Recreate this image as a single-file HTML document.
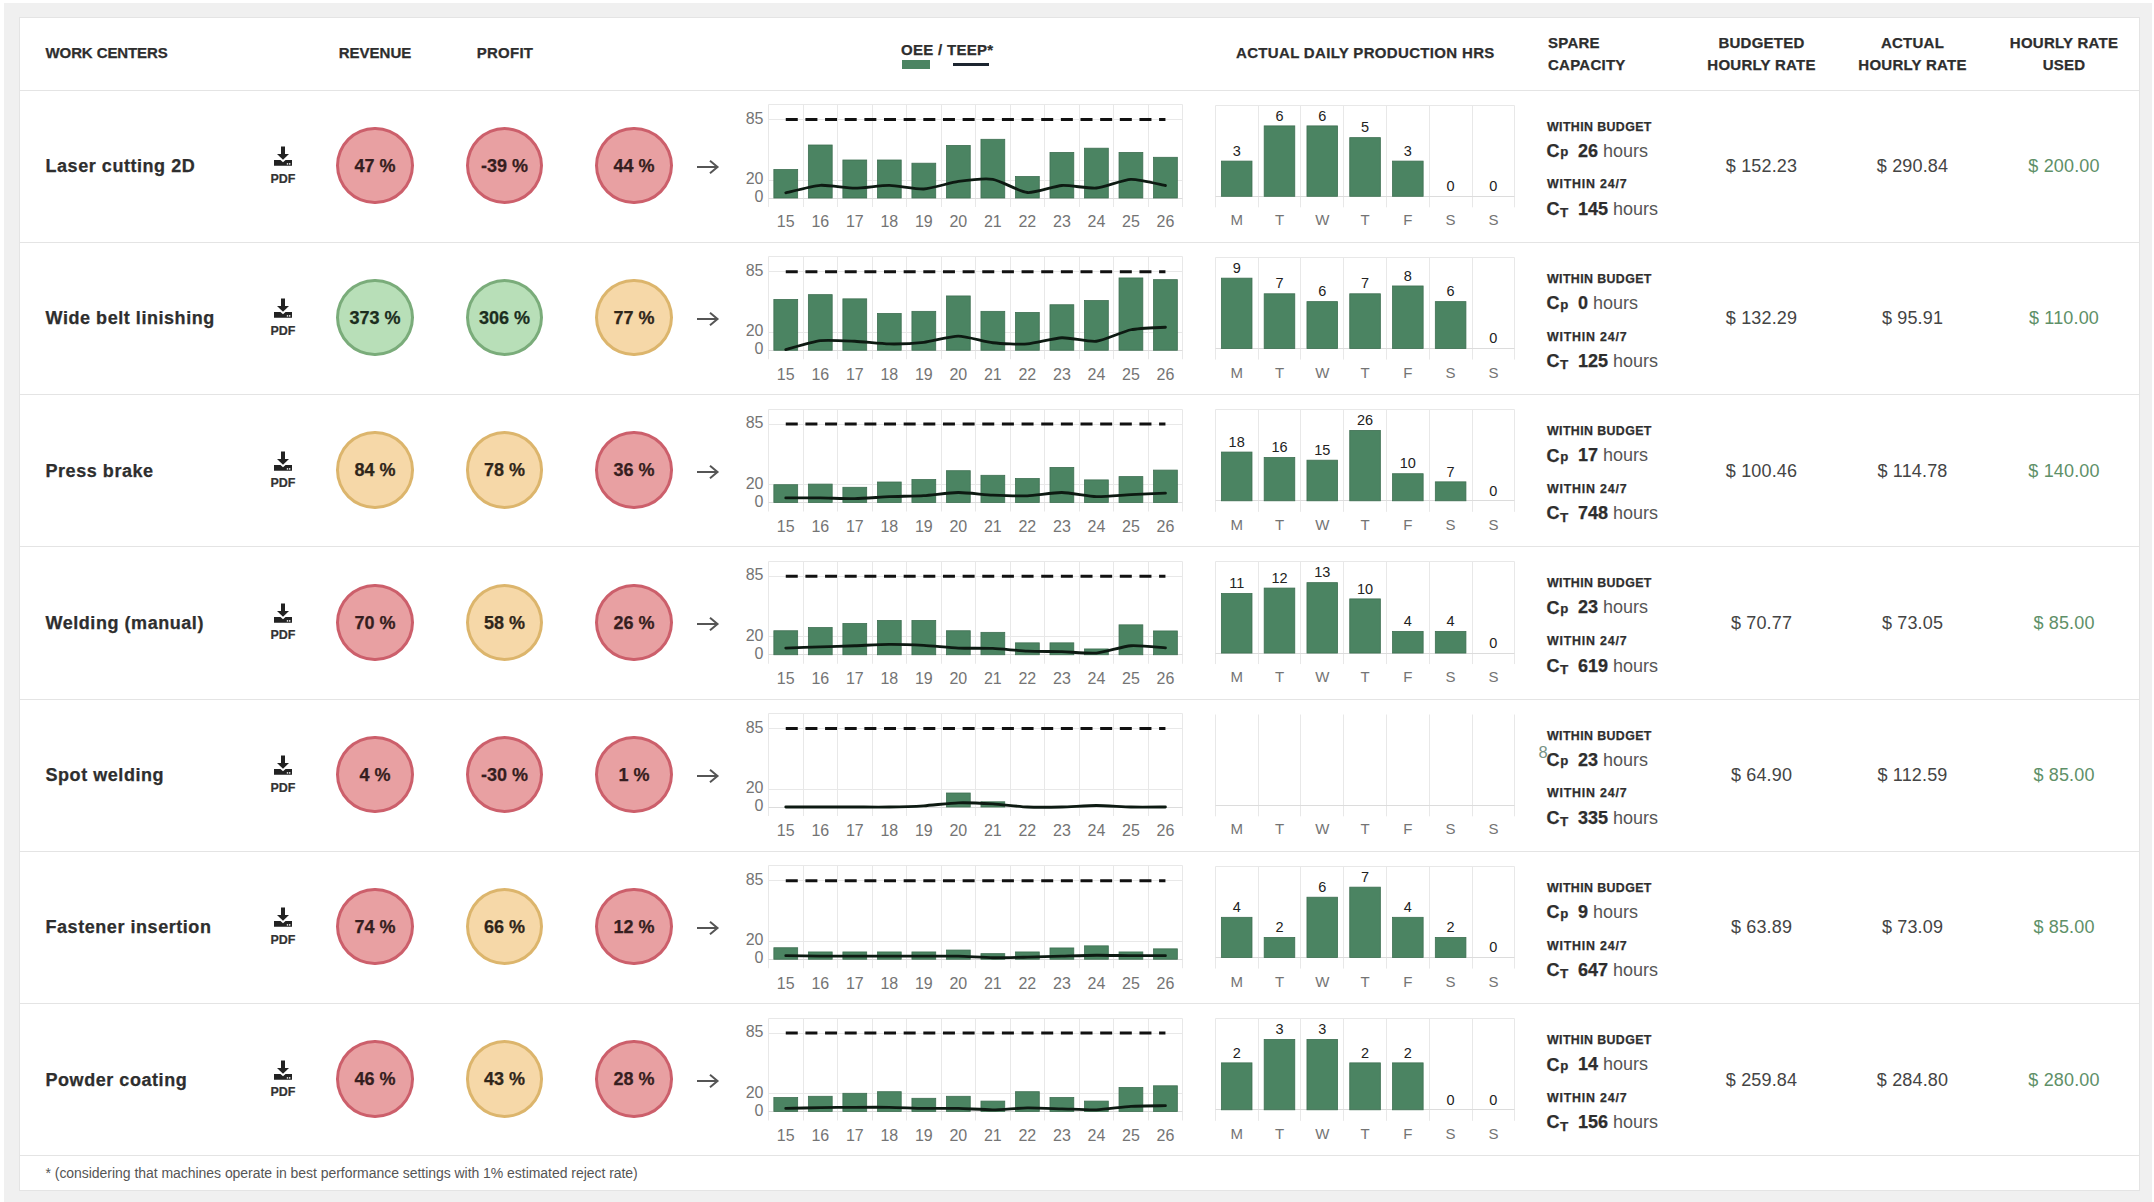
<!DOCTYPE html>
<html><head><meta charset="utf-8"><style>
html,body{margin:0;padding:0;width:2154px;height:1202px;overflow:hidden;background:#fff;font-family:'Liberation Sans', sans-serif;}
.a{position:absolute;white-space:nowrap;}
.hd,.nm,.circ,.wb,b{-webkit-text-stroke:0.25px currentColor;}
.hd{font-weight:bold;font-size:15px;color:#2e2e2e;letter-spacing:0.25px;line-height:22px;}
.nm{font-weight:bold;font-size:18px;color:#2e2e2e;letter-spacing:0.55px;}
.circ{position:absolute;width:71.5px;height:71.5px;border-radius:50%;border:3px solid;text-align:center;line-height:71.5px;font-weight:bold;font-size:18px;}
.wb{font-weight:bold;font-size:12.4px;color:#2e2e2e;letter-spacing:0.38px;}
.cp{font-size:18px;color:#2e2e2e;}
.rate{font-size:18px;color:#444;text-align:center;width:150px;letter-spacing:0.15px;}
</style></head><body>
<div class="a" style="left:4px;top:3px;width:2147.5px;height:1199px;background:#f0f0f0"></div>
<div class="a" style="left:18.5px;top:17px;width:2119px;height:1171.5px;background:#fff;border:1px solid #e4e4e4"></div>

<div class="a hd" style="left:45.5px;top:42px;letter-spacing:-0.1px">WORK CENTERS</div>
<div class="a hd" style="left:300px;width:150px;text-align:center;top:42px;letter-spacing:0px">REVENUE</div>
<div class="a hd" style="left:430px;width:150px;text-align:center;top:42px">PROFIT</div>
<div class="a hd" style="left:901px;top:38.5px;letter-spacing:0.3px">OEE / TEEP*</div>
<div class="a" style="left:902px;top:60.3px;width:28px;height:8.7px;background:#4b8462"></div>
<div class="a" style="left:953px;top:63px;width:35.5px;height:3px;background:#1c2530"></div>
<div class="a hd" style="left:1236px;top:42px;letter-spacing:0.33px">ACTUAL DAILY PRODUCTION HRS</div>
<div class="a hd" style="left:1548px;top:32px">SPARE<br>CAPACITY</div>
<div class="a hd" style="left:1661.5px;width:200px;text-align:center;top:32px">BUDGETED<br>HOURLY RATE</div>
<div class="a hd" style="left:1812.5px;width:200px;text-align:center;top:32px">ACTUAL<br>HOURLY RATE</div>
<div class="a hd" style="left:1964px;width:200px;text-align:center;top:32px">HOURLY RATE<br>USED</div>
<div class="a" style="left:18.5px;top:90.00px;width:2121px;height:1px;background:#e4e4e4"></div>
<div class="a" style="left:18.5px;top:242.00px;width:2121px;height:1px;background:#e4e4e4"></div>
<div class="a" style="left:18.5px;top:394.00px;width:2121px;height:1px;background:#e4e4e4"></div>
<div class="a" style="left:18.5px;top:546.00px;width:2121px;height:1px;background:#e4e4e4"></div>
<div class="a" style="left:18.5px;top:699.00px;width:2121px;height:1px;background:#e4e4e4"></div>
<div class="a" style="left:18.5px;top:851.00px;width:2121px;height:1px;background:#e4e4e4"></div>
<div class="a" style="left:18.5px;top:1003.00px;width:2121px;height:1px;background:#e4e4e4"></div>
<div class="a" style="left:18.5px;top:1155.00px;width:2121px;height:1px;background:#e4e4e4"></div>
<div class="a nm" style="left:45.5px;top:155.00px;line-height:22px">Laser cutting 2D</div>
<svg width="24" height="24" viewBox="0 0 24 24" style="position:absolute;left:271px;top:143.00px"><rect x="10" y="3.5" width="4" height="8" fill="#222"/><path d="M6,11 L18,11 L12,16.8 Z" fill="#222"/><path d="M3,17 L9.5,17 L12,19.3 L14.5,17 L21,17 L21,22.8 L3,22.8 Z" fill="#222"/><rect x="15.8" y="20.2" width="1.4" height="1.4" fill="#fff"/><rect x="18" y="20.2" width="1.4" height="1.4" fill="#fff"/></svg><div style="position:absolute;left:263px;width:40px;top:171.50px;text-align:center;font:bold 12.5px 'Liberation Sans', sans-serif;color:#333;line-height:14px;-webkit-text-stroke:0.2px #333">PDF</div>
<div class="circ" style="left:336.25px;top:126.75px;padding-top:1.2px;height:70.3px;line-height:70.3px;background:#e8a0a2;border-color:#cc5f6b;color:#361e20">47 %</div>
<div class="circ" style="left:465.75px;top:126.75px;padding-top:1.2px;height:70.3px;line-height:70.3px;background:#e8a0a2;border-color:#cc5f6b;color:#361e20">-39 %</div>
<div class="circ" style="left:595.25px;top:126.75px;padding-top:1.2px;height:70.3px;line-height:70.3px;background:#e8a0a2;border-color:#cc5f6b;color:#361e20">44 %</div>
<svg width="26" height="16" viewBox="0 0 26 16" style="position:absolute;left:695px;top:159.00px"><path d="M2,8 L22.5,8 M15,1.8 L22.5,8 L15,14.2" fill="none" stroke="#555" stroke-width="2"/></svg>
<svg width="470" height="140" viewBox="0 0 470 140" style="position:absolute;left:730px;top:95px">
<line x1="38.50" y1="9.5" x2="38.50" y2="112.0" stroke="#e8e8e8" stroke-width="1"/>
<line x1="73.50" y1="9.5" x2="73.50" y2="112.0" stroke="#e8e8e8" stroke-width="1"/>
<line x1="107.50" y1="9.5" x2="107.50" y2="112.0" stroke="#e8e8e8" stroke-width="1"/>
<line x1="142.50" y1="9.5" x2="142.50" y2="112.0" stroke="#e8e8e8" stroke-width="1"/>
<line x1="176.50" y1="9.5" x2="176.50" y2="112.0" stroke="#e8e8e8" stroke-width="1"/>
<line x1="211.50" y1="9.5" x2="211.50" y2="112.0" stroke="#e8e8e8" stroke-width="1"/>
<line x1="245.50" y1="9.5" x2="245.50" y2="112.0" stroke="#e8e8e8" stroke-width="1"/>
<line x1="280.50" y1="9.5" x2="280.50" y2="112.0" stroke="#e8e8e8" stroke-width="1"/>
<line x1="314.50" y1="9.5" x2="314.50" y2="112.0" stroke="#e8e8e8" stroke-width="1"/>
<line x1="349.50" y1="9.5" x2="349.50" y2="112.0" stroke="#e8e8e8" stroke-width="1"/>
<line x1="383.50" y1="9.5" x2="383.50" y2="112.0" stroke="#e8e8e8" stroke-width="1"/>
<line x1="418.50" y1="9.5" x2="418.50" y2="112.0" stroke="#e8e8e8" stroke-width="1"/>
<line x1="452.50" y1="9.5" x2="452.50" y2="112.0" stroke="#e8e8e8" stroke-width="1"/>
<line x1="38.5" y1="9.5" x2="452.5" y2="9.5" stroke="#e8e8e8" stroke-width="1"/>
<line x1="38.5" y1="24.5" x2="452.5" y2="24.5" stroke="#e8e8e8" stroke-width="1"/>
<line x1="38.5" y1="85.5" x2="452.5" y2="85.5" stroke="#e8e8e8" stroke-width="1"/>
<line x1="38.5" y1="103.5" x2="452.5" y2="103.5" stroke="#dcdcdc" stroke-width="1"/>
<rect x="43.86" y="74.50" width="23.8" height="28.50" fill="#4b8462" stroke="#3e6f52" stroke-width="0.8"/>
<rect x="78.38" y="50.00" width="23.8" height="53.00" fill="#4b8462" stroke="#3e6f52" stroke-width="0.8"/>
<rect x="112.89" y="65.00" width="23.8" height="38.00" fill="#4b8462" stroke="#3e6f52" stroke-width="0.8"/>
<rect x="147.41" y="65.00" width="23.8" height="38.00" fill="#4b8462" stroke="#3e6f52" stroke-width="0.8"/>
<rect x="181.93" y="68.20" width="23.8" height="34.80" fill="#4b8462" stroke="#3e6f52" stroke-width="0.8"/>
<rect x="216.44" y="50.40" width="23.8" height="52.60" fill="#4b8462" stroke="#3e6f52" stroke-width="0.8"/>
<rect x="250.96" y="44.30" width="23.8" height="58.70" fill="#4b8462" stroke="#3e6f52" stroke-width="0.8"/>
<rect x="285.48" y="81.50" width="23.8" height="21.50" fill="#4b8462" stroke="#3e6f52" stroke-width="0.8"/>
<rect x="319.99" y="57.40" width="23.8" height="45.60" fill="#4b8462" stroke="#3e6f52" stroke-width="0.8"/>
<rect x="354.51" y="53.20" width="23.8" height="49.80" fill="#4b8462" stroke="#3e6f52" stroke-width="0.8"/>
<rect x="389.03" y="57.40" width="23.8" height="45.60" fill="#4b8462" stroke="#3e6f52" stroke-width="0.8"/>
<rect x="423.54" y="62.30" width="23.8" height="40.70" fill="#4b8462" stroke="#3e6f52" stroke-width="0.8"/>
<line x1="55.76" y1="24.5" x2="435.44" y2="24.5" stroke="#111" stroke-width="3.2" stroke-dasharray="12,7.65"/>
<path d="M55.76,97.80 C59.56,96.97 82.68,90.81 90.28,90.30 C97.87,89.79 117.20,93.20 124.79,93.20 C132.39,93.20 151.71,90.21 159.31,90.30 C166.90,90.39 186.23,94.43 193.83,94.00 C201.42,93.57 220.75,87.47 228.34,86.40 C235.94,85.33 255.26,83.08 262.86,84.30 C270.45,85.52 289.78,96.82 297.38,97.50 C304.97,98.18 324.30,91.00 331.89,90.50 C339.49,90.00 358.81,93.68 366.41,93.00 C374.00,92.32 393.33,84.58 400.93,84.30 C408.52,84.02 431.64,89.82 435.44,90.50" fill="none" stroke="#0d1a12" stroke-width="2.8" stroke-linejoin="round" stroke-linecap="round"/>
<text x="33.5" y="28.50" text-anchor="end" font-family="Liberation Sans" font-size="16" fill="#747474">85</text>
<text x="33.5" y="89.00" text-anchor="end" font-family="Liberation Sans" font-size="16" fill="#747474">20</text>
<text x="33.5" y="107.00" text-anchor="end" font-family="Liberation Sans" font-size="16" fill="#747474">0</text>
<text x="55.76" y="132.30" text-anchor="middle" font-family="Liberation Sans" font-size="16" fill="#747474">15</text>
<text x="90.28" y="132.30" text-anchor="middle" font-family="Liberation Sans" font-size="16" fill="#747474">16</text>
<text x="124.79" y="132.30" text-anchor="middle" font-family="Liberation Sans" font-size="16" fill="#747474">17</text>
<text x="159.31" y="132.30" text-anchor="middle" font-family="Liberation Sans" font-size="16" fill="#747474">18</text>
<text x="193.83" y="132.30" text-anchor="middle" font-family="Liberation Sans" font-size="16" fill="#747474">19</text>
<text x="228.34" y="132.30" text-anchor="middle" font-family="Liberation Sans" font-size="16" fill="#747474">20</text>
<text x="262.86" y="132.30" text-anchor="middle" font-family="Liberation Sans" font-size="16" fill="#747474">21</text>
<text x="297.38" y="132.30" text-anchor="middle" font-family="Liberation Sans" font-size="16" fill="#747474">22</text>
<text x="331.89" y="132.30" text-anchor="middle" font-family="Liberation Sans" font-size="16" fill="#747474">23</text>
<text x="366.41" y="132.30" text-anchor="middle" font-family="Liberation Sans" font-size="16" fill="#747474">24</text>
<text x="400.93" y="132.30" text-anchor="middle" font-family="Liberation Sans" font-size="16" fill="#747474">25</text>
<text x="435.44" y="132.30" text-anchor="middle" font-family="Liberation Sans" font-size="16" fill="#747474">26</text>
</svg>
<svg width="330" height="140" viewBox="0 0 330 140" style="position:absolute;left:1200px;top:95px">
<line x1="15.50" y1="10.5" x2="15.50" y2="112.30000000000001" stroke="#e8e8e8" stroke-width="1"/>
<line x1="58.50" y1="10.5" x2="58.50" y2="112.30000000000001" stroke="#e8e8e8" stroke-width="1"/>
<line x1="100.50" y1="10.5" x2="100.50" y2="112.30000000000001" stroke="#e8e8e8" stroke-width="1"/>
<line x1="143.50" y1="10.5" x2="143.50" y2="112.30000000000001" stroke="#e8e8e8" stroke-width="1"/>
<line x1="186.50" y1="10.5" x2="186.50" y2="112.30000000000001" stroke="#e8e8e8" stroke-width="1"/>
<line x1="229.50" y1="10.5" x2="229.50" y2="112.30000000000001" stroke="#e8e8e8" stroke-width="1"/>
<line x1="272.50" y1="10.5" x2="272.50" y2="112.30000000000001" stroke="#e8e8e8" stroke-width="1"/>
<line x1="314.50" y1="10.5" x2="314.50" y2="112.30000000000001" stroke="#e8e8e8" stroke-width="1"/>
<line x1="15.5" y1="10.5" x2="314.5" y2="10.5" stroke="#e8e8e8" stroke-width="1"/>
<line x1="15.5" y1="101.5" x2="314.5" y2="101.5" stroke="#dcdcdc" stroke-width="1"/>
<rect x="21.39" y="66.10" width="30.6" height="35.20" fill="#4b8462" stroke="#3e6f52" stroke-width="0.8"/>
<text x="36.69" y="60.80" text-anchor="middle" font-family="Liberation Sans" font-size="14.5" fill="#222">3</text>
<rect x="64.18" y="30.90" width="30.6" height="70.40" fill="#4b8462" stroke="#3e6f52" stroke-width="0.8"/>
<text x="79.48" y="25.60" text-anchor="middle" font-family="Liberation Sans" font-size="14.5" fill="#222">6</text>
<rect x="106.96" y="30.90" width="30.6" height="70.40" fill="#4b8462" stroke="#3e6f52" stroke-width="0.8"/>
<text x="122.26" y="25.60" text-anchor="middle" font-family="Liberation Sans" font-size="14.5" fill="#222">6</text>
<rect x="149.75" y="42.63" width="30.6" height="58.67" fill="#4b8462" stroke="#3e6f52" stroke-width="0.8"/>
<text x="165.05" y="37.33" text-anchor="middle" font-family="Liberation Sans" font-size="14.5" fill="#222">5</text>
<rect x="192.54" y="66.10" width="30.6" height="35.20" fill="#4b8462" stroke="#3e6f52" stroke-width="0.8"/>
<text x="207.84" y="60.80" text-anchor="middle" font-family="Liberation Sans" font-size="14.5" fill="#222">3</text>
<text x="250.62" y="96.00" text-anchor="middle" font-family="Liberation Sans" font-size="14.5" fill="#222">0</text>
<text x="293.41" y="96.00" text-anchor="middle" font-family="Liberation Sans" font-size="14.5" fill="#222">0</text>
<text x="36.69" y="130.30" text-anchor="middle" font-family="Liberation Sans" font-size="15" fill="#747474">M</text>
<text x="79.48" y="130.30" text-anchor="middle" font-family="Liberation Sans" font-size="15" fill="#747474">T</text>
<text x="122.26" y="130.30" text-anchor="middle" font-family="Liberation Sans" font-size="15" fill="#747474">W</text>
<text x="165.05" y="130.30" text-anchor="middle" font-family="Liberation Sans" font-size="15" fill="#747474">T</text>
<text x="207.84" y="130.30" text-anchor="middle" font-family="Liberation Sans" font-size="15" fill="#747474">F</text>
<text x="250.62" y="130.30" text-anchor="middle" font-family="Liberation Sans" font-size="15" fill="#747474">S</text>
<text x="293.41" y="130.30" text-anchor="middle" font-family="Liberation Sans" font-size="15" fill="#747474">S</text>
</svg>
<div class="a wb" style="left:1547px;top:119.50px;line-height:14px">WITHIN BUDGET</div>
<div class="a wb" style="left:1547px;top:177.30px;line-height:14px;letter-spacing:0.8px">WITHIN 24/7</div>
<div class="a cp" style="left:1546.5px;top:140.00px;line-height:22px"><b>C</b><b style="font-size:13.2px;position:relative;top:-0.7px;margin-left:0.8px">p</b></div>
<div class="a cp" style="left:1578px;top:139.70px;line-height:22px"><b>26</b> <span style="color:#555">hours</span></div>
<div class="a cp" style="left:1546.5px;top:197.80px;line-height:22px"><b>C</b><b style="font-size:13.5px;position:relative;top:2.4px;margin-left:0.5px">T</b></div>
<div class="a cp" style="left:1578px;top:197.80px;line-height:22px"><b>145</b> <span style="color:#555">hours</span></div>
<div class="a rate" style="left:1686.5px;top:155.00px;line-height:22px">$ 152.23</div>
<div class="a rate" style="left:1837.5px;top:155.00px;line-height:22px">$ 290.84</div>
<div class="a rate" style="left:1989px;top:155.00px;line-height:22px;color:#5e9068">$ 200.00</div>
<div class="a nm" style="left:45.5px;top:307.25px;line-height:22px">Wide belt linishing</div>
<svg width="24" height="24" viewBox="0 0 24 24" style="position:absolute;left:271px;top:295.25px"><rect x="10" y="3.5" width="4" height="8" fill="#222"/><path d="M6,11 L18,11 L12,16.8 Z" fill="#222"/><path d="M3,17 L9.5,17 L12,19.3 L14.5,17 L21,17 L21,22.8 L3,22.8 Z" fill="#222"/><rect x="15.8" y="20.2" width="1.4" height="1.4" fill="#fff"/><rect x="18" y="20.2" width="1.4" height="1.4" fill="#fff"/></svg><div style="position:absolute;left:263px;width:40px;top:323.75px;text-align:center;font:bold 12.5px 'Liberation Sans', sans-serif;color:#333;line-height:14px;-webkit-text-stroke:0.2px #333">PDF</div>
<div class="circ" style="left:336.25px;top:279.00px;padding-top:1.2px;height:70.3px;line-height:70.3px;background:#b8dfb8;border-color:#7aac7a;color:#1c2e1e">373 %</div>
<div class="circ" style="left:465.75px;top:279.00px;padding-top:1.2px;height:70.3px;line-height:70.3px;background:#b8dfb8;border-color:#7aac7a;color:#1c2e1e">306 %</div>
<div class="circ" style="left:595.25px;top:279.00px;padding-top:1.2px;height:70.3px;line-height:70.3px;background:#f6d8a8;border-color:#dcb56c;color:#30261a">77 %</div>
<svg width="26" height="16" viewBox="0 0 26 16" style="position:absolute;left:695px;top:311.25px"><path d="M2,8 L22.5,8 M15,1.8 L22.5,8 L15,14.2" fill="none" stroke="#555" stroke-width="2"/></svg>
<svg width="470" height="140" viewBox="0 0 470 140" style="position:absolute;left:730px;top:247px">
<line x1="38.50" y1="9.5" x2="38.50" y2="112.25" stroke="#e8e8e8" stroke-width="1"/>
<line x1="73.50" y1="9.5" x2="73.50" y2="112.25" stroke="#e8e8e8" stroke-width="1"/>
<line x1="107.50" y1="9.5" x2="107.50" y2="112.25" stroke="#e8e8e8" stroke-width="1"/>
<line x1="142.50" y1="9.5" x2="142.50" y2="112.25" stroke="#e8e8e8" stroke-width="1"/>
<line x1="176.50" y1="9.5" x2="176.50" y2="112.25" stroke="#e8e8e8" stroke-width="1"/>
<line x1="211.50" y1="9.5" x2="211.50" y2="112.25" stroke="#e8e8e8" stroke-width="1"/>
<line x1="245.50" y1="9.5" x2="245.50" y2="112.25" stroke="#e8e8e8" stroke-width="1"/>
<line x1="280.50" y1="9.5" x2="280.50" y2="112.25" stroke="#e8e8e8" stroke-width="1"/>
<line x1="314.50" y1="9.5" x2="314.50" y2="112.25" stroke="#e8e8e8" stroke-width="1"/>
<line x1="349.50" y1="9.5" x2="349.50" y2="112.25" stroke="#e8e8e8" stroke-width="1"/>
<line x1="383.50" y1="9.5" x2="383.50" y2="112.25" stroke="#e8e8e8" stroke-width="1"/>
<line x1="418.50" y1="9.5" x2="418.50" y2="112.25" stroke="#e8e8e8" stroke-width="1"/>
<line x1="452.50" y1="9.5" x2="452.50" y2="112.25" stroke="#e8e8e8" stroke-width="1"/>
<line x1="38.5" y1="9.5" x2="452.5" y2="9.5" stroke="#e8e8e8" stroke-width="1"/>
<line x1="38.5" y1="24.5" x2="452.5" y2="24.5" stroke="#e8e8e8" stroke-width="1"/>
<line x1="38.5" y1="85.5" x2="452.5" y2="85.5" stroke="#e8e8e8" stroke-width="1"/>
<line x1="38.5" y1="103.5" x2="452.5" y2="103.5" stroke="#dcdcdc" stroke-width="1"/>
<rect x="43.86" y="52.45" width="23.8" height="50.80" fill="#4b8462" stroke="#3e6f52" stroke-width="0.8"/>
<rect x="78.38" y="47.65" width="23.8" height="55.60" fill="#4b8462" stroke="#3e6f52" stroke-width="0.8"/>
<rect x="112.89" y="51.85" width="23.8" height="51.40" fill="#4b8462" stroke="#3e6f52" stroke-width="0.8"/>
<rect x="147.41" y="66.45" width="23.8" height="36.80" fill="#4b8462" stroke="#3e6f52" stroke-width="0.8"/>
<rect x="181.93" y="64.35" width="23.8" height="38.90" fill="#4b8462" stroke="#3e6f52" stroke-width="0.8"/>
<rect x="216.44" y="48.95" width="23.8" height="54.30" fill="#4b8462" stroke="#3e6f52" stroke-width="0.8"/>
<rect x="250.96" y="64.35" width="23.8" height="38.90" fill="#4b8462" stroke="#3e6f52" stroke-width="0.8"/>
<rect x="285.48" y="65.45" width="23.8" height="37.80" fill="#4b8462" stroke="#3e6f52" stroke-width="0.8"/>
<rect x="319.99" y="57.75" width="23.8" height="45.50" fill="#4b8462" stroke="#3e6f52" stroke-width="0.8"/>
<rect x="354.51" y="53.55" width="23.8" height="49.70" fill="#4b8462" stroke="#3e6f52" stroke-width="0.8"/>
<rect x="389.03" y="30.95" width="23.8" height="72.30" fill="#4b8462" stroke="#3e6f52" stroke-width="0.8"/>
<rect x="423.54" y="32.65" width="23.8" height="70.60" fill="#4b8462" stroke="#3e6f52" stroke-width="0.8"/>
<line x1="55.76" y1="24.75" x2="435.44" y2="24.75" stroke="#111" stroke-width="3.2" stroke-dasharray="12,7.65"/>
<path d="M55.76,102.65 C59.56,101.66 82.68,94.57 90.28,93.65 C97.87,92.73 117.20,93.89 124.79,94.25 C132.39,94.61 151.71,96.83 159.31,96.95 C166.90,97.07 186.23,96.22 193.83,95.35 C201.42,94.48 220.75,89.01 228.34,89.05 C235.94,89.09 255.26,94.88 262.86,95.75 C270.45,96.62 289.78,97.50 297.38,96.95 C304.97,96.40 324.30,91.05 331.89,90.75 C339.49,90.45 358.81,95.13 366.41,94.25 C374.00,93.37 393.33,84.29 400.93,82.75 C408.52,81.21 431.64,80.53 435.44,80.25" fill="none" stroke="#0d1a12" stroke-width="2.8" stroke-linejoin="round" stroke-linecap="round"/>
<text x="33.5" y="28.75" text-anchor="end" font-family="Liberation Sans" font-size="16" fill="#747474">85</text>
<text x="33.5" y="89.25" text-anchor="end" font-family="Liberation Sans" font-size="16" fill="#747474">20</text>
<text x="33.5" y="107.25" text-anchor="end" font-family="Liberation Sans" font-size="16" fill="#747474">0</text>
<text x="55.76" y="132.55" text-anchor="middle" font-family="Liberation Sans" font-size="16" fill="#747474">15</text>
<text x="90.28" y="132.55" text-anchor="middle" font-family="Liberation Sans" font-size="16" fill="#747474">16</text>
<text x="124.79" y="132.55" text-anchor="middle" font-family="Liberation Sans" font-size="16" fill="#747474">17</text>
<text x="159.31" y="132.55" text-anchor="middle" font-family="Liberation Sans" font-size="16" fill="#747474">18</text>
<text x="193.83" y="132.55" text-anchor="middle" font-family="Liberation Sans" font-size="16" fill="#747474">19</text>
<text x="228.34" y="132.55" text-anchor="middle" font-family="Liberation Sans" font-size="16" fill="#747474">20</text>
<text x="262.86" y="132.55" text-anchor="middle" font-family="Liberation Sans" font-size="16" fill="#747474">21</text>
<text x="297.38" y="132.55" text-anchor="middle" font-family="Liberation Sans" font-size="16" fill="#747474">22</text>
<text x="331.89" y="132.55" text-anchor="middle" font-family="Liberation Sans" font-size="16" fill="#747474">23</text>
<text x="366.41" y="132.55" text-anchor="middle" font-family="Liberation Sans" font-size="16" fill="#747474">24</text>
<text x="400.93" y="132.55" text-anchor="middle" font-family="Liberation Sans" font-size="16" fill="#747474">25</text>
<text x="435.44" y="132.55" text-anchor="middle" font-family="Liberation Sans" font-size="16" fill="#747474">26</text>
</svg>
<svg width="330" height="140" viewBox="0 0 330 140" style="position:absolute;left:1200px;top:247px">
<line x1="15.50" y1="10.5" x2="15.50" y2="112.55000000000001" stroke="#e8e8e8" stroke-width="1"/>
<line x1="58.50" y1="10.5" x2="58.50" y2="112.55000000000001" stroke="#e8e8e8" stroke-width="1"/>
<line x1="100.50" y1="10.5" x2="100.50" y2="112.55000000000001" stroke="#e8e8e8" stroke-width="1"/>
<line x1="143.50" y1="10.5" x2="143.50" y2="112.55000000000001" stroke="#e8e8e8" stroke-width="1"/>
<line x1="186.50" y1="10.5" x2="186.50" y2="112.55000000000001" stroke="#e8e8e8" stroke-width="1"/>
<line x1="229.50" y1="10.5" x2="229.50" y2="112.55000000000001" stroke="#e8e8e8" stroke-width="1"/>
<line x1="272.50" y1="10.5" x2="272.50" y2="112.55000000000001" stroke="#e8e8e8" stroke-width="1"/>
<line x1="314.50" y1="10.5" x2="314.50" y2="112.55000000000001" stroke="#e8e8e8" stroke-width="1"/>
<line x1="15.5" y1="10.5" x2="314.5" y2="10.5" stroke="#e8e8e8" stroke-width="1"/>
<line x1="15.5" y1="101.5" x2="314.5" y2="101.5" stroke="#dcdcdc" stroke-width="1"/>
<rect x="21.39" y="31.15" width="30.6" height="70.40" fill="#4b8462" stroke="#3e6f52" stroke-width="0.8"/>
<text x="36.69" y="25.85" text-anchor="middle" font-family="Liberation Sans" font-size="14.5" fill="#222">9</text>
<rect x="64.18" y="46.79" width="30.6" height="54.76" fill="#4b8462" stroke="#3e6f52" stroke-width="0.8"/>
<text x="79.48" y="41.49" text-anchor="middle" font-family="Liberation Sans" font-size="14.5" fill="#222">7</text>
<rect x="106.96" y="54.62" width="30.6" height="46.93" fill="#4b8462" stroke="#3e6f52" stroke-width="0.8"/>
<text x="122.26" y="49.32" text-anchor="middle" font-family="Liberation Sans" font-size="14.5" fill="#222">6</text>
<rect x="149.75" y="46.79" width="30.6" height="54.76" fill="#4b8462" stroke="#3e6f52" stroke-width="0.8"/>
<text x="165.05" y="41.49" text-anchor="middle" font-family="Liberation Sans" font-size="14.5" fill="#222">7</text>
<rect x="192.54" y="38.97" width="30.6" height="62.58" fill="#4b8462" stroke="#3e6f52" stroke-width="0.8"/>
<text x="207.84" y="33.67" text-anchor="middle" font-family="Liberation Sans" font-size="14.5" fill="#222">8</text>
<rect x="235.32" y="54.62" width="30.6" height="46.93" fill="#4b8462" stroke="#3e6f52" stroke-width="0.8"/>
<text x="250.62" y="49.32" text-anchor="middle" font-family="Liberation Sans" font-size="14.5" fill="#222">6</text>
<text x="293.41" y="96.25" text-anchor="middle" font-family="Liberation Sans" font-size="14.5" fill="#222">0</text>
<text x="36.69" y="130.55" text-anchor="middle" font-family="Liberation Sans" font-size="15" fill="#747474">M</text>
<text x="79.48" y="130.55" text-anchor="middle" font-family="Liberation Sans" font-size="15" fill="#747474">T</text>
<text x="122.26" y="130.55" text-anchor="middle" font-family="Liberation Sans" font-size="15" fill="#747474">W</text>
<text x="165.05" y="130.55" text-anchor="middle" font-family="Liberation Sans" font-size="15" fill="#747474">T</text>
<text x="207.84" y="130.55" text-anchor="middle" font-family="Liberation Sans" font-size="15" fill="#747474">F</text>
<text x="250.62" y="130.55" text-anchor="middle" font-family="Liberation Sans" font-size="15" fill="#747474">S</text>
<text x="293.41" y="130.55" text-anchor="middle" font-family="Liberation Sans" font-size="15" fill="#747474">S</text>
</svg>
<div class="a wb" style="left:1547px;top:271.75px;line-height:14px">WITHIN BUDGET</div>
<div class="a wb" style="left:1547px;top:329.55px;line-height:14px;letter-spacing:0.8px">WITHIN 24/7</div>
<div class="a cp" style="left:1546.5px;top:292.25px;line-height:22px"><b>C</b><b style="font-size:13.2px;position:relative;top:-0.7px;margin-left:0.8px">p</b></div>
<div class="a cp" style="left:1578px;top:291.95px;line-height:22px"><b>0</b> <span style="color:#555">hours</span></div>
<div class="a cp" style="left:1546.5px;top:350.05px;line-height:22px"><b>C</b><b style="font-size:13.5px;position:relative;top:2.4px;margin-left:0.5px">T</b></div>
<div class="a cp" style="left:1578px;top:350.05px;line-height:22px"><b>125</b> <span style="color:#555">hours</span></div>
<div class="a rate" style="left:1686.5px;top:307.25px;line-height:22px">$ 132.29</div>
<div class="a rate" style="left:1837.5px;top:307.25px;line-height:22px">$ 95.91</div>
<div class="a rate" style="left:1989px;top:307.25px;line-height:22px;color:#5e9068">$ 110.00</div>
<div class="a nm" style="left:45.5px;top:459.50px;line-height:22px">Press brake</div>
<svg width="24" height="24" viewBox="0 0 24 24" style="position:absolute;left:271px;top:447.50px"><rect x="10" y="3.5" width="4" height="8" fill="#222"/><path d="M6,11 L18,11 L12,16.8 Z" fill="#222"/><path d="M3,17 L9.5,17 L12,19.3 L14.5,17 L21,17 L21,22.8 L3,22.8 Z" fill="#222"/><rect x="15.8" y="20.2" width="1.4" height="1.4" fill="#fff"/><rect x="18" y="20.2" width="1.4" height="1.4" fill="#fff"/></svg><div style="position:absolute;left:263px;width:40px;top:476.00px;text-align:center;font:bold 12.5px 'Liberation Sans', sans-serif;color:#333;line-height:14px;-webkit-text-stroke:0.2px #333">PDF</div>
<div class="circ" style="left:336.25px;top:431.25px;padding-top:1.2px;height:70.3px;line-height:70.3px;background:#f6d8a8;border-color:#dcb56c;color:#30261a">84 %</div>
<div class="circ" style="left:465.75px;top:431.25px;padding-top:1.2px;height:70.3px;line-height:70.3px;background:#f6d8a8;border-color:#dcb56c;color:#30261a">78 %</div>
<div class="circ" style="left:595.25px;top:431.25px;padding-top:1.2px;height:70.3px;line-height:70.3px;background:#e8a0a2;border-color:#cc5f6b;color:#361e20">36 %</div>
<svg width="26" height="16" viewBox="0 0 26 16" style="position:absolute;left:695px;top:463.50px"><path d="M2,8 L22.5,8 M15,1.8 L22.5,8 L15,14.2" fill="none" stroke="#555" stroke-width="2"/></svg>
<svg width="470" height="140" viewBox="0 0 470 140" style="position:absolute;left:730px;top:399px">
<line x1="38.50" y1="10.5" x2="38.50" y2="112.5" stroke="#e8e8e8" stroke-width="1"/>
<line x1="73.50" y1="10.5" x2="73.50" y2="112.5" stroke="#e8e8e8" stroke-width="1"/>
<line x1="107.50" y1="10.5" x2="107.50" y2="112.5" stroke="#e8e8e8" stroke-width="1"/>
<line x1="142.50" y1="10.5" x2="142.50" y2="112.5" stroke="#e8e8e8" stroke-width="1"/>
<line x1="176.50" y1="10.5" x2="176.50" y2="112.5" stroke="#e8e8e8" stroke-width="1"/>
<line x1="211.50" y1="10.5" x2="211.50" y2="112.5" stroke="#e8e8e8" stroke-width="1"/>
<line x1="245.50" y1="10.5" x2="245.50" y2="112.5" stroke="#e8e8e8" stroke-width="1"/>
<line x1="280.50" y1="10.5" x2="280.50" y2="112.5" stroke="#e8e8e8" stroke-width="1"/>
<line x1="314.50" y1="10.5" x2="314.50" y2="112.5" stroke="#e8e8e8" stroke-width="1"/>
<line x1="349.50" y1="10.5" x2="349.50" y2="112.5" stroke="#e8e8e8" stroke-width="1"/>
<line x1="383.50" y1="10.5" x2="383.50" y2="112.5" stroke="#e8e8e8" stroke-width="1"/>
<line x1="418.50" y1="10.5" x2="418.50" y2="112.5" stroke="#e8e8e8" stroke-width="1"/>
<line x1="452.50" y1="10.5" x2="452.50" y2="112.5" stroke="#e8e8e8" stroke-width="1"/>
<line x1="38.5" y1="10.5" x2="452.5" y2="10.5" stroke="#e8e8e8" stroke-width="1"/>
<line x1="38.5" y1="25.5" x2="452.5" y2="25.5" stroke="#e8e8e8" stroke-width="1"/>
<line x1="38.5" y1="85.5" x2="452.5" y2="85.5" stroke="#e8e8e8" stroke-width="1"/>
<line x1="38.5" y1="103.5" x2="452.5" y2="103.5" stroke="#dcdcdc" stroke-width="1"/>
<rect x="43.86" y="85.70" width="23.8" height="17.80" fill="#4b8462" stroke="#3e6f52" stroke-width="0.8"/>
<rect x="78.38" y="85.10" width="23.8" height="18.40" fill="#4b8462" stroke="#3e6f52" stroke-width="0.8"/>
<rect x="112.89" y="88.30" width="23.8" height="15.20" fill="#4b8462" stroke="#3e6f52" stroke-width="0.8"/>
<rect x="147.41" y="83.00" width="23.8" height="20.50" fill="#4b8462" stroke="#3e6f52" stroke-width="0.8"/>
<rect x="181.93" y="80.50" width="23.8" height="23.00" fill="#4b8462" stroke="#3e6f52" stroke-width="0.8"/>
<rect x="216.44" y="71.70" width="23.8" height="31.80" fill="#4b8462" stroke="#3e6f52" stroke-width="0.8"/>
<rect x="250.96" y="76.30" width="23.8" height="27.20" fill="#4b8462" stroke="#3e6f52" stroke-width="0.8"/>
<rect x="285.48" y="79.50" width="23.8" height="24.00" fill="#4b8462" stroke="#3e6f52" stroke-width="0.8"/>
<rect x="319.99" y="68.40" width="23.8" height="35.10" fill="#4b8462" stroke="#3e6f52" stroke-width="0.8"/>
<rect x="354.51" y="80.90" width="23.8" height="22.60" fill="#4b8462" stroke="#3e6f52" stroke-width="0.8"/>
<rect x="389.03" y="77.60" width="23.8" height="25.90" fill="#4b8462" stroke="#3e6f52" stroke-width="0.8"/>
<rect x="423.54" y="71.10" width="23.8" height="32.40" fill="#4b8462" stroke="#3e6f52" stroke-width="0.8"/>
<line x1="55.76" y1="25.0" x2="435.44" y2="25.0" stroke="#111" stroke-width="3.2" stroke-dasharray="12,7.65"/>
<path d="M55.76,98.90 C59.56,98.90 82.68,98.81 90.28,98.90 C97.87,98.99 117.20,99.83 124.79,99.70 C132.39,99.57 151.71,98.04 159.31,97.70 C166.90,97.36 186.23,97.06 193.83,96.60 C201.42,96.14 220.75,93.54 228.34,93.50 C235.94,93.46 255.26,95.84 262.86,96.20 C270.45,96.56 289.78,97.10 297.38,96.80 C304.97,96.50 324.30,93.40 331.89,93.50 C339.49,93.60 358.81,97.47 366.41,97.70 C374.00,97.93 393.33,96.00 400.93,95.60 C408.52,95.20 431.64,94.27 435.44,94.10" fill="none" stroke="#0d1a12" stroke-width="2.8" stroke-linejoin="round" stroke-linecap="round"/>
<text x="33.5" y="29.00" text-anchor="end" font-family="Liberation Sans" font-size="16" fill="#747474">85</text>
<text x="33.5" y="89.50" text-anchor="end" font-family="Liberation Sans" font-size="16" fill="#747474">20</text>
<text x="33.5" y="107.50" text-anchor="end" font-family="Liberation Sans" font-size="16" fill="#747474">0</text>
<text x="55.76" y="132.80" text-anchor="middle" font-family="Liberation Sans" font-size="16" fill="#747474">15</text>
<text x="90.28" y="132.80" text-anchor="middle" font-family="Liberation Sans" font-size="16" fill="#747474">16</text>
<text x="124.79" y="132.80" text-anchor="middle" font-family="Liberation Sans" font-size="16" fill="#747474">17</text>
<text x="159.31" y="132.80" text-anchor="middle" font-family="Liberation Sans" font-size="16" fill="#747474">18</text>
<text x="193.83" y="132.80" text-anchor="middle" font-family="Liberation Sans" font-size="16" fill="#747474">19</text>
<text x="228.34" y="132.80" text-anchor="middle" font-family="Liberation Sans" font-size="16" fill="#747474">20</text>
<text x="262.86" y="132.80" text-anchor="middle" font-family="Liberation Sans" font-size="16" fill="#747474">21</text>
<text x="297.38" y="132.80" text-anchor="middle" font-family="Liberation Sans" font-size="16" fill="#747474">22</text>
<text x="331.89" y="132.80" text-anchor="middle" font-family="Liberation Sans" font-size="16" fill="#747474">23</text>
<text x="366.41" y="132.80" text-anchor="middle" font-family="Liberation Sans" font-size="16" fill="#747474">24</text>
<text x="400.93" y="132.80" text-anchor="middle" font-family="Liberation Sans" font-size="16" fill="#747474">25</text>
<text x="435.44" y="132.80" text-anchor="middle" font-family="Liberation Sans" font-size="16" fill="#747474">26</text>
</svg>
<svg width="330" height="140" viewBox="0 0 330 140" style="position:absolute;left:1200px;top:399px">
<line x1="15.50" y1="10.5" x2="15.50" y2="112.80000000000001" stroke="#e8e8e8" stroke-width="1"/>
<line x1="58.50" y1="10.5" x2="58.50" y2="112.80000000000001" stroke="#e8e8e8" stroke-width="1"/>
<line x1="100.50" y1="10.5" x2="100.50" y2="112.80000000000001" stroke="#e8e8e8" stroke-width="1"/>
<line x1="143.50" y1="10.5" x2="143.50" y2="112.80000000000001" stroke="#e8e8e8" stroke-width="1"/>
<line x1="186.50" y1="10.5" x2="186.50" y2="112.80000000000001" stroke="#e8e8e8" stroke-width="1"/>
<line x1="229.50" y1="10.5" x2="229.50" y2="112.80000000000001" stroke="#e8e8e8" stroke-width="1"/>
<line x1="272.50" y1="10.5" x2="272.50" y2="112.80000000000001" stroke="#e8e8e8" stroke-width="1"/>
<line x1="314.50" y1="10.5" x2="314.50" y2="112.80000000000001" stroke="#e8e8e8" stroke-width="1"/>
<line x1="15.5" y1="10.5" x2="314.5" y2="10.5" stroke="#e8e8e8" stroke-width="1"/>
<line x1="15.5" y1="101.5" x2="314.5" y2="101.5" stroke="#dcdcdc" stroke-width="1"/>
<rect x="21.39" y="53.06" width="30.6" height="48.74" fill="#4b8462" stroke="#3e6f52" stroke-width="0.8"/>
<text x="36.69" y="47.76" text-anchor="middle" font-family="Liberation Sans" font-size="14.5" fill="#222">18</text>
<rect x="64.18" y="58.48" width="30.6" height="43.32" fill="#4b8462" stroke="#3e6f52" stroke-width="0.8"/>
<text x="79.48" y="53.18" text-anchor="middle" font-family="Liberation Sans" font-size="14.5" fill="#222">16</text>
<rect x="106.96" y="61.18" width="30.6" height="40.62" fill="#4b8462" stroke="#3e6f52" stroke-width="0.8"/>
<text x="122.26" y="55.88" text-anchor="middle" font-family="Liberation Sans" font-size="14.5" fill="#222">15</text>
<rect x="149.75" y="31.40" width="30.6" height="70.40" fill="#4b8462" stroke="#3e6f52" stroke-width="0.8"/>
<text x="165.05" y="26.10" text-anchor="middle" font-family="Liberation Sans" font-size="14.5" fill="#222">26</text>
<rect x="192.54" y="74.72" width="30.6" height="27.08" fill="#4b8462" stroke="#3e6f52" stroke-width="0.8"/>
<text x="207.84" y="69.42" text-anchor="middle" font-family="Liberation Sans" font-size="14.5" fill="#222">10</text>
<rect x="235.32" y="82.85" width="30.6" height="18.95" fill="#4b8462" stroke="#3e6f52" stroke-width="0.8"/>
<text x="250.62" y="77.55" text-anchor="middle" font-family="Liberation Sans" font-size="14.5" fill="#222">7</text>
<text x="293.41" y="96.50" text-anchor="middle" font-family="Liberation Sans" font-size="14.5" fill="#222">0</text>
<text x="36.69" y="130.80" text-anchor="middle" font-family="Liberation Sans" font-size="15" fill="#747474">M</text>
<text x="79.48" y="130.80" text-anchor="middle" font-family="Liberation Sans" font-size="15" fill="#747474">T</text>
<text x="122.26" y="130.80" text-anchor="middle" font-family="Liberation Sans" font-size="15" fill="#747474">W</text>
<text x="165.05" y="130.80" text-anchor="middle" font-family="Liberation Sans" font-size="15" fill="#747474">T</text>
<text x="207.84" y="130.80" text-anchor="middle" font-family="Liberation Sans" font-size="15" fill="#747474">F</text>
<text x="250.62" y="130.80" text-anchor="middle" font-family="Liberation Sans" font-size="15" fill="#747474">S</text>
<text x="293.41" y="130.80" text-anchor="middle" font-family="Liberation Sans" font-size="15" fill="#747474">S</text>
</svg>
<div class="a wb" style="left:1547px;top:424.00px;line-height:14px">WITHIN BUDGET</div>
<div class="a wb" style="left:1547px;top:481.80px;line-height:14px;letter-spacing:0.8px">WITHIN 24/7</div>
<div class="a cp" style="left:1546.5px;top:444.50px;line-height:22px"><b>C</b><b style="font-size:13.2px;position:relative;top:-0.7px;margin-left:0.8px">p</b></div>
<div class="a cp" style="left:1578px;top:444.20px;line-height:22px"><b>17</b> <span style="color:#555">hours</span></div>
<div class="a cp" style="left:1546.5px;top:502.30px;line-height:22px"><b>C</b><b style="font-size:13.5px;position:relative;top:2.4px;margin-left:0.5px">T</b></div>
<div class="a cp" style="left:1578px;top:502.30px;line-height:22px"><b>748</b> <span style="color:#555">hours</span></div>
<div class="a rate" style="left:1686.5px;top:459.50px;line-height:22px">$ 100.46</div>
<div class="a rate" style="left:1837.5px;top:459.50px;line-height:22px">$ 114.78</div>
<div class="a rate" style="left:1989px;top:459.50px;line-height:22px;color:#5e9068">$ 140.00</div>
<div class="a nm" style="left:45.5px;top:611.75px;line-height:22px">Welding (manual)</div>
<svg width="24" height="24" viewBox="0 0 24 24" style="position:absolute;left:271px;top:599.75px"><rect x="10" y="3.5" width="4" height="8" fill="#222"/><path d="M6,11 L18,11 L12,16.8 Z" fill="#222"/><path d="M3,17 L9.5,17 L12,19.3 L14.5,17 L21,17 L21,22.8 L3,22.8 Z" fill="#222"/><rect x="15.8" y="20.2" width="1.4" height="1.4" fill="#fff"/><rect x="18" y="20.2" width="1.4" height="1.4" fill="#fff"/></svg><div style="position:absolute;left:263px;width:40px;top:628.25px;text-align:center;font:bold 12.5px 'Liberation Sans', sans-serif;color:#333;line-height:14px;-webkit-text-stroke:0.2px #333">PDF</div>
<div class="circ" style="left:336.25px;top:583.50px;padding-top:1.2px;height:70.3px;line-height:70.3px;background:#e8a0a2;border-color:#cc5f6b;color:#361e20">70 %</div>
<div class="circ" style="left:465.75px;top:583.50px;padding-top:1.2px;height:70.3px;line-height:70.3px;background:#f6d8a8;border-color:#dcb56c;color:#30261a">58 %</div>
<div class="circ" style="left:595.25px;top:583.50px;padding-top:1.2px;height:70.3px;line-height:70.3px;background:#e8a0a2;border-color:#cc5f6b;color:#361e20">26 %</div>
<svg width="26" height="16" viewBox="0 0 26 16" style="position:absolute;left:695px;top:615.75px"><path d="M2,8 L22.5,8 M15,1.8 L22.5,8 L15,14.2" fill="none" stroke="#555" stroke-width="2"/></svg>
<svg width="470" height="140" viewBox="0 0 470 140" style="position:absolute;left:730px;top:552px">
<line x1="38.50" y1="9.5" x2="38.50" y2="111.75" stroke="#e8e8e8" stroke-width="1"/>
<line x1="73.50" y1="9.5" x2="73.50" y2="111.75" stroke="#e8e8e8" stroke-width="1"/>
<line x1="107.50" y1="9.5" x2="107.50" y2="111.75" stroke="#e8e8e8" stroke-width="1"/>
<line x1="142.50" y1="9.5" x2="142.50" y2="111.75" stroke="#e8e8e8" stroke-width="1"/>
<line x1="176.50" y1="9.5" x2="176.50" y2="111.75" stroke="#e8e8e8" stroke-width="1"/>
<line x1="211.50" y1="9.5" x2="211.50" y2="111.75" stroke="#e8e8e8" stroke-width="1"/>
<line x1="245.50" y1="9.5" x2="245.50" y2="111.75" stroke="#e8e8e8" stroke-width="1"/>
<line x1="280.50" y1="9.5" x2="280.50" y2="111.75" stroke="#e8e8e8" stroke-width="1"/>
<line x1="314.50" y1="9.5" x2="314.50" y2="111.75" stroke="#e8e8e8" stroke-width="1"/>
<line x1="349.50" y1="9.5" x2="349.50" y2="111.75" stroke="#e8e8e8" stroke-width="1"/>
<line x1="383.50" y1="9.5" x2="383.50" y2="111.75" stroke="#e8e8e8" stroke-width="1"/>
<line x1="418.50" y1="9.5" x2="418.50" y2="111.75" stroke="#e8e8e8" stroke-width="1"/>
<line x1="452.50" y1="9.5" x2="452.50" y2="111.75" stroke="#e8e8e8" stroke-width="1"/>
<line x1="38.5" y1="9.5" x2="452.5" y2="9.5" stroke="#e8e8e8" stroke-width="1"/>
<line x1="38.5" y1="24.5" x2="452.5" y2="24.5" stroke="#e8e8e8" stroke-width="1"/>
<line x1="38.5" y1="84.5" x2="452.5" y2="84.5" stroke="#e8e8e8" stroke-width="1"/>
<line x1="38.5" y1="102.5" x2="452.5" y2="102.5" stroke="#dcdcdc" stroke-width="1"/>
<rect x="43.86" y="78.75" width="23.8" height="24.00" fill="#4b8462" stroke="#3e6f52" stroke-width="0.8"/>
<rect x="78.38" y="75.55" width="23.8" height="27.20" fill="#4b8462" stroke="#3e6f52" stroke-width="0.8"/>
<rect x="112.89" y="71.45" width="23.8" height="31.30" fill="#4b8462" stroke="#3e6f52" stroke-width="0.8"/>
<rect x="147.41" y="68.45" width="23.8" height="34.30" fill="#4b8462" stroke="#3e6f52" stroke-width="0.8"/>
<rect x="181.93" y="68.45" width="23.8" height="34.30" fill="#4b8462" stroke="#3e6f52" stroke-width="0.8"/>
<rect x="216.44" y="78.75" width="23.8" height="24.00" fill="#4b8462" stroke="#3e6f52" stroke-width="0.8"/>
<rect x="250.96" y="80.35" width="23.8" height="22.40" fill="#4b8462" stroke="#3e6f52" stroke-width="0.8"/>
<rect x="285.48" y="90.85" width="23.8" height="11.90" fill="#4b8462" stroke="#3e6f52" stroke-width="0.8"/>
<rect x="319.99" y="90.85" width="23.8" height="11.90" fill="#4b8462" stroke="#3e6f52" stroke-width="0.8"/>
<rect x="354.51" y="96.95" width="23.8" height="5.80" fill="#4b8462" stroke="#3e6f52" stroke-width="0.8"/>
<rect x="389.03" y="72.85" width="23.8" height="29.90" fill="#4b8462" stroke="#3e6f52" stroke-width="0.8"/>
<rect x="423.54" y="78.95" width="23.8" height="23.80" fill="#4b8462" stroke="#3e6f52" stroke-width="0.8"/>
<line x1="55.76" y1="24.25" x2="435.44" y2="24.25" stroke="#111" stroke-width="3.2" stroke-dasharray="12,7.65"/>
<path d="M55.76,96.05 C59.56,95.92 82.68,95.10 90.28,94.85 C97.87,94.60 117.20,94.03 124.79,93.75 C132.39,93.47 151.71,92.39 159.31,92.35 C166.90,92.31 186.23,92.94 193.83,93.35 C201.42,93.76 220.75,95.71 228.34,96.05 C235.94,96.39 255.26,96.11 262.86,96.45 C270.45,96.79 289.78,98.80 297.38,99.15 C304.97,99.50 324.30,99.44 331.89,99.65 C339.49,99.86 358.81,101.70 366.41,101.05 C374.00,100.40 393.33,94.32 400.93,93.75 C408.52,93.18 431.64,95.62 435.44,95.85" fill="none" stroke="#0d1a12" stroke-width="2.8" stroke-linejoin="round" stroke-linecap="round"/>
<text x="33.5" y="28.25" text-anchor="end" font-family="Liberation Sans" font-size="16" fill="#747474">85</text>
<text x="33.5" y="88.75" text-anchor="end" font-family="Liberation Sans" font-size="16" fill="#747474">20</text>
<text x="33.5" y="106.75" text-anchor="end" font-family="Liberation Sans" font-size="16" fill="#747474">0</text>
<text x="55.76" y="132.05" text-anchor="middle" font-family="Liberation Sans" font-size="16" fill="#747474">15</text>
<text x="90.28" y="132.05" text-anchor="middle" font-family="Liberation Sans" font-size="16" fill="#747474">16</text>
<text x="124.79" y="132.05" text-anchor="middle" font-family="Liberation Sans" font-size="16" fill="#747474">17</text>
<text x="159.31" y="132.05" text-anchor="middle" font-family="Liberation Sans" font-size="16" fill="#747474">18</text>
<text x="193.83" y="132.05" text-anchor="middle" font-family="Liberation Sans" font-size="16" fill="#747474">19</text>
<text x="228.34" y="132.05" text-anchor="middle" font-family="Liberation Sans" font-size="16" fill="#747474">20</text>
<text x="262.86" y="132.05" text-anchor="middle" font-family="Liberation Sans" font-size="16" fill="#747474">21</text>
<text x="297.38" y="132.05" text-anchor="middle" font-family="Liberation Sans" font-size="16" fill="#747474">22</text>
<text x="331.89" y="132.05" text-anchor="middle" font-family="Liberation Sans" font-size="16" fill="#747474">23</text>
<text x="366.41" y="132.05" text-anchor="middle" font-family="Liberation Sans" font-size="16" fill="#747474">24</text>
<text x="400.93" y="132.05" text-anchor="middle" font-family="Liberation Sans" font-size="16" fill="#747474">25</text>
<text x="435.44" y="132.05" text-anchor="middle" font-family="Liberation Sans" font-size="16" fill="#747474">26</text>
</svg>
<svg width="330" height="140" viewBox="0 0 330 140" style="position:absolute;left:1200px;top:552px">
<line x1="15.50" y1="9.5" x2="15.50" y2="112.05000000000001" stroke="#e8e8e8" stroke-width="1"/>
<line x1="58.50" y1="9.5" x2="58.50" y2="112.05000000000001" stroke="#e8e8e8" stroke-width="1"/>
<line x1="100.50" y1="9.5" x2="100.50" y2="112.05000000000001" stroke="#e8e8e8" stroke-width="1"/>
<line x1="143.50" y1="9.5" x2="143.50" y2="112.05000000000001" stroke="#e8e8e8" stroke-width="1"/>
<line x1="186.50" y1="9.5" x2="186.50" y2="112.05000000000001" stroke="#e8e8e8" stroke-width="1"/>
<line x1="229.50" y1="9.5" x2="229.50" y2="112.05000000000001" stroke="#e8e8e8" stroke-width="1"/>
<line x1="272.50" y1="9.5" x2="272.50" y2="112.05000000000001" stroke="#e8e8e8" stroke-width="1"/>
<line x1="314.50" y1="9.5" x2="314.50" y2="112.05000000000001" stroke="#e8e8e8" stroke-width="1"/>
<line x1="15.5" y1="9.5" x2="314.5" y2="9.5" stroke="#e8e8e8" stroke-width="1"/>
<line x1="15.5" y1="101.5" x2="314.5" y2="101.5" stroke="#dcdcdc" stroke-width="1"/>
<rect x="21.39" y="41.48" width="30.6" height="59.57" fill="#4b8462" stroke="#3e6f52" stroke-width="0.8"/>
<text x="36.69" y="36.18" text-anchor="middle" font-family="Liberation Sans" font-size="14.5" fill="#222">11</text>
<rect x="64.18" y="36.07" width="30.6" height="64.98" fill="#4b8462" stroke="#3e6f52" stroke-width="0.8"/>
<text x="79.48" y="30.77" text-anchor="middle" font-family="Liberation Sans" font-size="14.5" fill="#222">12</text>
<rect x="106.96" y="30.65" width="30.6" height="70.40" fill="#4b8462" stroke="#3e6f52" stroke-width="0.8"/>
<text x="122.26" y="25.35" text-anchor="middle" font-family="Liberation Sans" font-size="14.5" fill="#222">13</text>
<rect x="149.75" y="46.90" width="30.6" height="54.15" fill="#4b8462" stroke="#3e6f52" stroke-width="0.8"/>
<text x="165.05" y="41.60" text-anchor="middle" font-family="Liberation Sans" font-size="14.5" fill="#222">10</text>
<rect x="192.54" y="79.39" width="30.6" height="21.66" fill="#4b8462" stroke="#3e6f52" stroke-width="0.8"/>
<text x="207.84" y="74.09" text-anchor="middle" font-family="Liberation Sans" font-size="14.5" fill="#222">4</text>
<rect x="235.32" y="79.39" width="30.6" height="21.66" fill="#4b8462" stroke="#3e6f52" stroke-width="0.8"/>
<text x="250.62" y="74.09" text-anchor="middle" font-family="Liberation Sans" font-size="14.5" fill="#222">4</text>
<text x="293.41" y="95.75" text-anchor="middle" font-family="Liberation Sans" font-size="14.5" fill="#222">0</text>
<text x="36.69" y="130.05" text-anchor="middle" font-family="Liberation Sans" font-size="15" fill="#747474">M</text>
<text x="79.48" y="130.05" text-anchor="middle" font-family="Liberation Sans" font-size="15" fill="#747474">T</text>
<text x="122.26" y="130.05" text-anchor="middle" font-family="Liberation Sans" font-size="15" fill="#747474">W</text>
<text x="165.05" y="130.05" text-anchor="middle" font-family="Liberation Sans" font-size="15" fill="#747474">T</text>
<text x="207.84" y="130.05" text-anchor="middle" font-family="Liberation Sans" font-size="15" fill="#747474">F</text>
<text x="250.62" y="130.05" text-anchor="middle" font-family="Liberation Sans" font-size="15" fill="#747474">S</text>
<text x="293.41" y="130.05" text-anchor="middle" font-family="Liberation Sans" font-size="15" fill="#747474">S</text>
</svg>
<div class="a wb" style="left:1547px;top:576.25px;line-height:14px">WITHIN BUDGET</div>
<div class="a wb" style="left:1547px;top:634.05px;line-height:14px;letter-spacing:0.8px">WITHIN 24/7</div>
<div class="a cp" style="left:1546.5px;top:596.75px;line-height:22px"><b>C</b><b style="font-size:13.2px;position:relative;top:-0.7px;margin-left:0.8px">p</b></div>
<div class="a cp" style="left:1578px;top:596.45px;line-height:22px"><b>23</b> <span style="color:#555">hours</span></div>
<div class="a cp" style="left:1546.5px;top:654.55px;line-height:22px"><b>C</b><b style="font-size:13.5px;position:relative;top:2.4px;margin-left:0.5px">T</b></div>
<div class="a cp" style="left:1578px;top:654.55px;line-height:22px"><b>619</b> <span style="color:#555">hours</span></div>
<div class="a rate" style="left:1686.5px;top:611.75px;line-height:22px">$ 70.77</div>
<div class="a rate" style="left:1837.5px;top:611.75px;line-height:22px">$ 73.05</div>
<div class="a rate" style="left:1989px;top:611.75px;line-height:22px;color:#5e9068">$ 85.00</div>
<div class="a nm" style="left:45.5px;top:764.00px;line-height:22px">Spot welding</div>
<svg width="24" height="24" viewBox="0 0 24 24" style="position:absolute;left:271px;top:752.00px"><rect x="10" y="3.5" width="4" height="8" fill="#222"/><path d="M6,11 L18,11 L12,16.8 Z" fill="#222"/><path d="M3,17 L9.5,17 L12,19.3 L14.5,17 L21,17 L21,22.8 L3,22.8 Z" fill="#222"/><rect x="15.8" y="20.2" width="1.4" height="1.4" fill="#fff"/><rect x="18" y="20.2" width="1.4" height="1.4" fill="#fff"/></svg><div style="position:absolute;left:263px;width:40px;top:780.50px;text-align:center;font:bold 12.5px 'Liberation Sans', sans-serif;color:#333;line-height:14px;-webkit-text-stroke:0.2px #333">PDF</div>
<div class="circ" style="left:336.25px;top:735.75px;padding-top:1.2px;height:70.3px;line-height:70.3px;background:#e8a0a2;border-color:#cc5f6b;color:#361e20">4 %</div>
<div class="circ" style="left:465.75px;top:735.75px;padding-top:1.2px;height:70.3px;line-height:70.3px;background:#e8a0a2;border-color:#cc5f6b;color:#361e20">-30 %</div>
<div class="circ" style="left:595.25px;top:735.75px;padding-top:1.2px;height:70.3px;line-height:70.3px;background:#e8a0a2;border-color:#cc5f6b;color:#361e20">1 %</div>
<svg width="26" height="16" viewBox="0 0 26 16" style="position:absolute;left:695px;top:768.00px"><path d="M2,8 L22.5,8 M15,1.8 L22.5,8 L15,14.2" fill="none" stroke="#555" stroke-width="2"/></svg>
<svg width="470" height="140" viewBox="0 0 470 140" style="position:absolute;left:730px;top:704px">
<line x1="38.50" y1="9.5" x2="38.50" y2="112.0" stroke="#e8e8e8" stroke-width="1"/>
<line x1="73.50" y1="9.5" x2="73.50" y2="112.0" stroke="#e8e8e8" stroke-width="1"/>
<line x1="107.50" y1="9.5" x2="107.50" y2="112.0" stroke="#e8e8e8" stroke-width="1"/>
<line x1="142.50" y1="9.5" x2="142.50" y2="112.0" stroke="#e8e8e8" stroke-width="1"/>
<line x1="176.50" y1="9.5" x2="176.50" y2="112.0" stroke="#e8e8e8" stroke-width="1"/>
<line x1="211.50" y1="9.5" x2="211.50" y2="112.0" stroke="#e8e8e8" stroke-width="1"/>
<line x1="245.50" y1="9.5" x2="245.50" y2="112.0" stroke="#e8e8e8" stroke-width="1"/>
<line x1="280.50" y1="9.5" x2="280.50" y2="112.0" stroke="#e8e8e8" stroke-width="1"/>
<line x1="314.50" y1="9.5" x2="314.50" y2="112.0" stroke="#e8e8e8" stroke-width="1"/>
<line x1="349.50" y1="9.5" x2="349.50" y2="112.0" stroke="#e8e8e8" stroke-width="1"/>
<line x1="383.50" y1="9.5" x2="383.50" y2="112.0" stroke="#e8e8e8" stroke-width="1"/>
<line x1="418.50" y1="9.5" x2="418.50" y2="112.0" stroke="#e8e8e8" stroke-width="1"/>
<line x1="452.50" y1="9.5" x2="452.50" y2="112.0" stroke="#e8e8e8" stroke-width="1"/>
<line x1="38.5" y1="9.5" x2="452.5" y2="9.5" stroke="#e8e8e8" stroke-width="1"/>
<line x1="38.5" y1="24.5" x2="452.5" y2="24.5" stroke="#e8e8e8" stroke-width="1"/>
<line x1="38.5" y1="85.5" x2="452.5" y2="85.5" stroke="#e8e8e8" stroke-width="1"/>
<line x1="38.5" y1="103.5" x2="452.5" y2="103.5" stroke="#dcdcdc" stroke-width="1"/>
<rect x="216.44" y="89.00" width="23.8" height="14.00" fill="#4b8462" stroke="#3e6f52" stroke-width="0.8"/>
<rect x="250.96" y="97.80" width="23.8" height="5.20" fill="#4b8462" stroke="#3e6f52" stroke-width="0.8"/>
<line x1="55.76" y1="24.5" x2="435.44" y2="24.5" stroke="#111" stroke-width="3.2" stroke-dasharray="12,7.65"/>
<path d="M55.76,103.00 C59.56,103.00 82.68,103.00 90.28,103.00 C97.87,103.00 117.20,103.00 124.79,103.00 C132.39,103.00 151.71,103.13 159.31,103.00 C166.90,102.87 186.23,102.26 193.83,101.80 C201.42,101.34 220.75,99.01 228.34,98.80 C235.94,98.59 255.26,99.44 262.86,99.90 C270.45,100.36 289.78,102.66 297.38,103.00 C304.97,103.34 324.30,103.17 331.89,103.00 C339.49,102.83 358.81,101.50 366.41,101.50 C374.00,101.50 393.33,102.83 400.93,103.00 C408.52,103.17 431.64,103.00 435.44,103.00" fill="none" stroke="#0d1a12" stroke-width="2.8" stroke-linejoin="round" stroke-linecap="round"/>
<text x="33.5" y="28.50" text-anchor="end" font-family="Liberation Sans" font-size="16" fill="#747474">85</text>
<text x="33.5" y="89.00" text-anchor="end" font-family="Liberation Sans" font-size="16" fill="#747474">20</text>
<text x="33.5" y="107.00" text-anchor="end" font-family="Liberation Sans" font-size="16" fill="#747474">0</text>
<text x="55.76" y="132.30" text-anchor="middle" font-family="Liberation Sans" font-size="16" fill="#747474">15</text>
<text x="90.28" y="132.30" text-anchor="middle" font-family="Liberation Sans" font-size="16" fill="#747474">16</text>
<text x="124.79" y="132.30" text-anchor="middle" font-family="Liberation Sans" font-size="16" fill="#747474">17</text>
<text x="159.31" y="132.30" text-anchor="middle" font-family="Liberation Sans" font-size="16" fill="#747474">18</text>
<text x="193.83" y="132.30" text-anchor="middle" font-family="Liberation Sans" font-size="16" fill="#747474">19</text>
<text x="228.34" y="132.30" text-anchor="middle" font-family="Liberation Sans" font-size="16" fill="#747474">20</text>
<text x="262.86" y="132.30" text-anchor="middle" font-family="Liberation Sans" font-size="16" fill="#747474">21</text>
<text x="297.38" y="132.30" text-anchor="middle" font-family="Liberation Sans" font-size="16" fill="#747474">22</text>
<text x="331.89" y="132.30" text-anchor="middle" font-family="Liberation Sans" font-size="16" fill="#747474">23</text>
<text x="366.41" y="132.30" text-anchor="middle" font-family="Liberation Sans" font-size="16" fill="#747474">24</text>
<text x="400.93" y="132.30" text-anchor="middle" font-family="Liberation Sans" font-size="16" fill="#747474">25</text>
<text x="435.44" y="132.30" text-anchor="middle" font-family="Liberation Sans" font-size="16" fill="#747474">26</text>
</svg>
<svg width="330" height="140" viewBox="0 0 330 140" style="position:absolute;left:1200px;top:704px">
<line x1="15.50" y1="10.5" x2="15.50" y2="112.30000000000001" stroke="#e8e8e8" stroke-width="1"/>
<line x1="58.50" y1="10.5" x2="58.50" y2="112.30000000000001" stroke="#e8e8e8" stroke-width="1"/>
<line x1="100.50" y1="10.5" x2="100.50" y2="112.30000000000001" stroke="#e8e8e8" stroke-width="1"/>
<line x1="143.50" y1="10.5" x2="143.50" y2="112.30000000000001" stroke="#e8e8e8" stroke-width="1"/>
<line x1="186.50" y1="10.5" x2="186.50" y2="112.30000000000001" stroke="#e8e8e8" stroke-width="1"/>
<line x1="229.50" y1="10.5" x2="229.50" y2="112.30000000000001" stroke="#e8e8e8" stroke-width="1"/>
<line x1="272.50" y1="10.5" x2="272.50" y2="112.30000000000001" stroke="#e8e8e8" stroke-width="1"/>
<line x1="314.50" y1="10.5" x2="314.50" y2="112.30000000000001" stroke="#e8e8e8" stroke-width="1"/>
<line x1="15.5" y1="101.5" x2="314.5" y2="101.5" stroke="#dcdcdc" stroke-width="1"/>
<text x="36.69" y="130.30" text-anchor="middle" font-family="Liberation Sans" font-size="15" fill="#747474">M</text>
<text x="79.48" y="130.30" text-anchor="middle" font-family="Liberation Sans" font-size="15" fill="#747474">T</text>
<text x="122.26" y="130.30" text-anchor="middle" font-family="Liberation Sans" font-size="15" fill="#747474">W</text>
<text x="165.05" y="130.30" text-anchor="middle" font-family="Liberation Sans" font-size="15" fill="#747474">T</text>
<text x="207.84" y="130.30" text-anchor="middle" font-family="Liberation Sans" font-size="15" fill="#747474">F</text>
<text x="250.62" y="130.30" text-anchor="middle" font-family="Liberation Sans" font-size="15" fill="#747474">S</text>
<text x="293.41" y="130.30" text-anchor="middle" font-family="Liberation Sans" font-size="15" fill="#747474">S</text>
</svg>
<div class="a wb" style="left:1547px;top:728.50px;line-height:14px">WITHIN BUDGET</div>
<div class="a wb" style="left:1547px;top:786.30px;line-height:14px;letter-spacing:0.8px">WITHIN 24/7</div>
<div class="a cp" style="left:1546.5px;top:749.00px;line-height:22px"><b>C</b><b style="font-size:13.2px;position:relative;top:-0.7px;margin-left:0.8px">p</b></div>
<div class="a cp" style="left:1578px;top:748.70px;line-height:22px"><b>23</b> <span style="color:#555">hours</span></div>
<div class="a cp" style="left:1546.5px;top:806.80px;line-height:22px"><b>C</b><b style="font-size:13.5px;position:relative;top:2.4px;margin-left:0.5px">T</b></div>
<div class="a cp" style="left:1578px;top:806.80px;line-height:22px"><b>335</b> <span style="color:#555">hours</span></div>
<div class="a rate" style="left:1686.5px;top:764.00px;line-height:22px">$ 64.90</div>
<div class="a rate" style="left:1837.5px;top:764.00px;line-height:22px">$ 112.59</div>
<div class="a rate" style="left:1989px;top:764.00px;line-height:22px;color:#5e9068">$ 85.00</div>
<div class="a nm" style="left:45.5px;top:916.25px;line-height:22px">Fastener insertion</div>
<svg width="24" height="24" viewBox="0 0 24 24" style="position:absolute;left:271px;top:904.25px"><rect x="10" y="3.5" width="4" height="8" fill="#222"/><path d="M6,11 L18,11 L12,16.8 Z" fill="#222"/><path d="M3,17 L9.5,17 L12,19.3 L14.5,17 L21,17 L21,22.8 L3,22.8 Z" fill="#222"/><rect x="15.8" y="20.2" width="1.4" height="1.4" fill="#fff"/><rect x="18" y="20.2" width="1.4" height="1.4" fill="#fff"/></svg><div style="position:absolute;left:263px;width:40px;top:932.75px;text-align:center;font:bold 12.5px 'Liberation Sans', sans-serif;color:#333;line-height:14px;-webkit-text-stroke:0.2px #333">PDF</div>
<div class="circ" style="left:336.25px;top:888.00px;padding-top:1.2px;height:70.3px;line-height:70.3px;background:#e8a0a2;border-color:#cc5f6b;color:#361e20">74 %</div>
<div class="circ" style="left:465.75px;top:888.00px;padding-top:1.2px;height:70.3px;line-height:70.3px;background:#f6d8a8;border-color:#dcb56c;color:#30261a">66 %</div>
<div class="circ" style="left:595.25px;top:888.00px;padding-top:1.2px;height:70.3px;line-height:70.3px;background:#e8a0a2;border-color:#cc5f6b;color:#361e20">12 %</div>
<svg width="26" height="16" viewBox="0 0 26 16" style="position:absolute;left:695px;top:920.25px"><path d="M2,8 L22.5,8 M15,1.8 L22.5,8 L15,14.2" fill="none" stroke="#555" stroke-width="2"/></svg>
<svg width="470" height="140" viewBox="0 0 470 140" style="position:absolute;left:730px;top:856px">
<line x1="38.50" y1="9.5" x2="38.50" y2="112.25" stroke="#e8e8e8" stroke-width="1"/>
<line x1="73.50" y1="9.5" x2="73.50" y2="112.25" stroke="#e8e8e8" stroke-width="1"/>
<line x1="107.50" y1="9.5" x2="107.50" y2="112.25" stroke="#e8e8e8" stroke-width="1"/>
<line x1="142.50" y1="9.5" x2="142.50" y2="112.25" stroke="#e8e8e8" stroke-width="1"/>
<line x1="176.50" y1="9.5" x2="176.50" y2="112.25" stroke="#e8e8e8" stroke-width="1"/>
<line x1="211.50" y1="9.5" x2="211.50" y2="112.25" stroke="#e8e8e8" stroke-width="1"/>
<line x1="245.50" y1="9.5" x2="245.50" y2="112.25" stroke="#e8e8e8" stroke-width="1"/>
<line x1="280.50" y1="9.5" x2="280.50" y2="112.25" stroke="#e8e8e8" stroke-width="1"/>
<line x1="314.50" y1="9.5" x2="314.50" y2="112.25" stroke="#e8e8e8" stroke-width="1"/>
<line x1="349.50" y1="9.5" x2="349.50" y2="112.25" stroke="#e8e8e8" stroke-width="1"/>
<line x1="383.50" y1="9.5" x2="383.50" y2="112.25" stroke="#e8e8e8" stroke-width="1"/>
<line x1="418.50" y1="9.5" x2="418.50" y2="112.25" stroke="#e8e8e8" stroke-width="1"/>
<line x1="452.50" y1="9.5" x2="452.50" y2="112.25" stroke="#e8e8e8" stroke-width="1"/>
<line x1="38.5" y1="9.5" x2="452.5" y2="9.5" stroke="#e8e8e8" stroke-width="1"/>
<line x1="38.5" y1="24.5" x2="452.5" y2="24.5" stroke="#e8e8e8" stroke-width="1"/>
<line x1="38.5" y1="85.5" x2="452.5" y2="85.5" stroke="#e8e8e8" stroke-width="1"/>
<line x1="38.5" y1="103.5" x2="452.5" y2="103.5" stroke="#dcdcdc" stroke-width="1"/>
<rect x="43.86" y="91.75" width="23.8" height="11.50" fill="#4b8462" stroke="#3e6f52" stroke-width="0.8"/>
<rect x="78.38" y="95.95" width="23.8" height="7.30" fill="#4b8462" stroke="#3e6f52" stroke-width="0.8"/>
<rect x="112.89" y="95.95" width="23.8" height="7.30" fill="#4b8462" stroke="#3e6f52" stroke-width="0.8"/>
<rect x="147.41" y="95.95" width="23.8" height="7.30" fill="#4b8462" stroke="#3e6f52" stroke-width="0.8"/>
<rect x="181.93" y="95.95" width="23.8" height="7.30" fill="#4b8462" stroke="#3e6f52" stroke-width="0.8"/>
<rect x="216.44" y="94.05" width="23.8" height="9.20" fill="#4b8462" stroke="#3e6f52" stroke-width="0.8"/>
<rect x="250.96" y="97.65" width="23.8" height="5.60" fill="#4b8462" stroke="#3e6f52" stroke-width="0.8"/>
<rect x="285.48" y="95.95" width="23.8" height="7.30" fill="#4b8462" stroke="#3e6f52" stroke-width="0.8"/>
<rect x="319.99" y="91.95" width="23.8" height="11.30" fill="#4b8462" stroke="#3e6f52" stroke-width="0.8"/>
<rect x="354.51" y="89.85" width="23.8" height="13.40" fill="#4b8462" stroke="#3e6f52" stroke-width="0.8"/>
<rect x="389.03" y="95.95" width="23.8" height="7.30" fill="#4b8462" stroke="#3e6f52" stroke-width="0.8"/>
<rect x="423.54" y="92.85" width="23.8" height="10.40" fill="#4b8462" stroke="#3e6f52" stroke-width="0.8"/>
<line x1="55.76" y1="24.75" x2="435.44" y2="24.75" stroke="#111" stroke-width="3.2" stroke-dasharray="12,7.65"/>
<path d="M55.76,99.65 C59.56,99.71 82.68,100.09 90.28,100.15 C97.87,100.21 117.20,100.15 124.79,100.15 C132.39,100.15 151.71,100.15 159.31,100.15 C166.90,100.15 186.23,100.15 193.83,100.15 C201.42,100.15 220.75,99.97 228.34,100.15 C235.94,100.33 255.26,101.64 262.86,101.75 C270.45,101.86 289.78,101.33 297.38,101.15 C304.97,100.97 324.30,100.36 331.89,100.15 C339.49,99.94 358.81,99.31 366.41,99.25 C374.00,99.19 393.33,99.61 400.93,99.65 C408.52,99.69 431.64,99.65 435.44,99.65" fill="none" stroke="#0d1a12" stroke-width="2.8" stroke-linejoin="round" stroke-linecap="round"/>
<text x="33.5" y="28.75" text-anchor="end" font-family="Liberation Sans" font-size="16" fill="#747474">85</text>
<text x="33.5" y="89.25" text-anchor="end" font-family="Liberation Sans" font-size="16" fill="#747474">20</text>
<text x="33.5" y="107.25" text-anchor="end" font-family="Liberation Sans" font-size="16" fill="#747474">0</text>
<text x="55.76" y="132.55" text-anchor="middle" font-family="Liberation Sans" font-size="16" fill="#747474">15</text>
<text x="90.28" y="132.55" text-anchor="middle" font-family="Liberation Sans" font-size="16" fill="#747474">16</text>
<text x="124.79" y="132.55" text-anchor="middle" font-family="Liberation Sans" font-size="16" fill="#747474">17</text>
<text x="159.31" y="132.55" text-anchor="middle" font-family="Liberation Sans" font-size="16" fill="#747474">18</text>
<text x="193.83" y="132.55" text-anchor="middle" font-family="Liberation Sans" font-size="16" fill="#747474">19</text>
<text x="228.34" y="132.55" text-anchor="middle" font-family="Liberation Sans" font-size="16" fill="#747474">20</text>
<text x="262.86" y="132.55" text-anchor="middle" font-family="Liberation Sans" font-size="16" fill="#747474">21</text>
<text x="297.38" y="132.55" text-anchor="middle" font-family="Liberation Sans" font-size="16" fill="#747474">22</text>
<text x="331.89" y="132.55" text-anchor="middle" font-family="Liberation Sans" font-size="16" fill="#747474">23</text>
<text x="366.41" y="132.55" text-anchor="middle" font-family="Liberation Sans" font-size="16" fill="#747474">24</text>
<text x="400.93" y="132.55" text-anchor="middle" font-family="Liberation Sans" font-size="16" fill="#747474">25</text>
<text x="435.44" y="132.55" text-anchor="middle" font-family="Liberation Sans" font-size="16" fill="#747474">26</text>
</svg>
<svg width="330" height="140" viewBox="0 0 330 140" style="position:absolute;left:1200px;top:856px">
<line x1="15.50" y1="10.5" x2="15.50" y2="112.55000000000001" stroke="#e8e8e8" stroke-width="1"/>
<line x1="58.50" y1="10.5" x2="58.50" y2="112.55000000000001" stroke="#e8e8e8" stroke-width="1"/>
<line x1="100.50" y1="10.5" x2="100.50" y2="112.55000000000001" stroke="#e8e8e8" stroke-width="1"/>
<line x1="143.50" y1="10.5" x2="143.50" y2="112.55000000000001" stroke="#e8e8e8" stroke-width="1"/>
<line x1="186.50" y1="10.5" x2="186.50" y2="112.55000000000001" stroke="#e8e8e8" stroke-width="1"/>
<line x1="229.50" y1="10.5" x2="229.50" y2="112.55000000000001" stroke="#e8e8e8" stroke-width="1"/>
<line x1="272.50" y1="10.5" x2="272.50" y2="112.55000000000001" stroke="#e8e8e8" stroke-width="1"/>
<line x1="314.50" y1="10.5" x2="314.50" y2="112.55000000000001" stroke="#e8e8e8" stroke-width="1"/>
<line x1="15.5" y1="10.5" x2="314.5" y2="10.5" stroke="#e8e8e8" stroke-width="1"/>
<line x1="15.5" y1="101.5" x2="314.5" y2="101.5" stroke="#dcdcdc" stroke-width="1"/>
<rect x="21.39" y="61.32" width="30.6" height="40.23" fill="#4b8462" stroke="#3e6f52" stroke-width="0.8"/>
<text x="36.69" y="56.02" text-anchor="middle" font-family="Liberation Sans" font-size="14.5" fill="#222">4</text>
<rect x="64.18" y="81.44" width="30.6" height="20.11" fill="#4b8462" stroke="#3e6f52" stroke-width="0.8"/>
<text x="79.48" y="76.14" text-anchor="middle" font-family="Liberation Sans" font-size="14.5" fill="#222">2</text>
<rect x="106.96" y="41.21" width="30.6" height="60.34" fill="#4b8462" stroke="#3e6f52" stroke-width="0.8"/>
<text x="122.26" y="35.91" text-anchor="middle" font-family="Liberation Sans" font-size="14.5" fill="#222">6</text>
<rect x="149.75" y="31.15" width="30.6" height="70.40" fill="#4b8462" stroke="#3e6f52" stroke-width="0.8"/>
<text x="165.05" y="25.85" text-anchor="middle" font-family="Liberation Sans" font-size="14.5" fill="#222">7</text>
<rect x="192.54" y="61.32" width="30.6" height="40.23" fill="#4b8462" stroke="#3e6f52" stroke-width="0.8"/>
<text x="207.84" y="56.02" text-anchor="middle" font-family="Liberation Sans" font-size="14.5" fill="#222">4</text>
<rect x="235.32" y="81.44" width="30.6" height="20.11" fill="#4b8462" stroke="#3e6f52" stroke-width="0.8"/>
<text x="250.62" y="76.14" text-anchor="middle" font-family="Liberation Sans" font-size="14.5" fill="#222">2</text>
<text x="293.41" y="96.25" text-anchor="middle" font-family="Liberation Sans" font-size="14.5" fill="#222">0</text>
<text x="36.69" y="130.55" text-anchor="middle" font-family="Liberation Sans" font-size="15" fill="#747474">M</text>
<text x="79.48" y="130.55" text-anchor="middle" font-family="Liberation Sans" font-size="15" fill="#747474">T</text>
<text x="122.26" y="130.55" text-anchor="middle" font-family="Liberation Sans" font-size="15" fill="#747474">W</text>
<text x="165.05" y="130.55" text-anchor="middle" font-family="Liberation Sans" font-size="15" fill="#747474">T</text>
<text x="207.84" y="130.55" text-anchor="middle" font-family="Liberation Sans" font-size="15" fill="#747474">F</text>
<text x="250.62" y="130.55" text-anchor="middle" font-family="Liberation Sans" font-size="15" fill="#747474">S</text>
<text x="293.41" y="130.55" text-anchor="middle" font-family="Liberation Sans" font-size="15" fill="#747474">S</text>
</svg>
<div class="a wb" style="left:1547px;top:880.75px;line-height:14px">WITHIN BUDGET</div>
<div class="a wb" style="left:1547px;top:938.55px;line-height:14px;letter-spacing:0.8px">WITHIN 24/7</div>
<div class="a cp" style="left:1546.5px;top:901.25px;line-height:22px"><b>C</b><b style="font-size:13.2px;position:relative;top:-0.7px;margin-left:0.8px">p</b></div>
<div class="a cp" style="left:1578px;top:900.95px;line-height:22px"><b>9</b> <span style="color:#555">hours</span></div>
<div class="a cp" style="left:1546.5px;top:959.05px;line-height:22px"><b>C</b><b style="font-size:13.5px;position:relative;top:2.4px;margin-left:0.5px">T</b></div>
<div class="a cp" style="left:1578px;top:959.05px;line-height:22px"><b>647</b> <span style="color:#555">hours</span></div>
<div class="a rate" style="left:1686.5px;top:916.25px;line-height:22px">$ 63.89</div>
<div class="a rate" style="left:1837.5px;top:916.25px;line-height:22px">$ 73.09</div>
<div class="a rate" style="left:1989px;top:916.25px;line-height:22px;color:#5e9068">$ 85.00</div>
<div class="a nm" style="left:45.5px;top:1068.50px;line-height:22px">Powder coating</div>
<svg width="24" height="24" viewBox="0 0 24 24" style="position:absolute;left:271px;top:1056.50px"><rect x="10" y="3.5" width="4" height="8" fill="#222"/><path d="M6,11 L18,11 L12,16.8 Z" fill="#222"/><path d="M3,17 L9.5,17 L12,19.3 L14.5,17 L21,17 L21,22.8 L3,22.8 Z" fill="#222"/><rect x="15.8" y="20.2" width="1.4" height="1.4" fill="#fff"/><rect x="18" y="20.2" width="1.4" height="1.4" fill="#fff"/></svg><div style="position:absolute;left:263px;width:40px;top:1085.00px;text-align:center;font:bold 12.5px 'Liberation Sans', sans-serif;color:#333;line-height:14px;-webkit-text-stroke:0.2px #333">PDF</div>
<div class="circ" style="left:336.25px;top:1040.25px;padding-top:1.2px;height:70.3px;line-height:70.3px;background:#e8a0a2;border-color:#cc5f6b;color:#361e20">46 %</div>
<div class="circ" style="left:465.75px;top:1040.25px;padding-top:1.2px;height:70.3px;line-height:70.3px;background:#f6d8a8;border-color:#dcb56c;color:#30261a">43 %</div>
<div class="circ" style="left:595.25px;top:1040.25px;padding-top:1.2px;height:70.3px;line-height:70.3px;background:#e8a0a2;border-color:#cc5f6b;color:#361e20">28 %</div>
<svg width="26" height="16" viewBox="0 0 26 16" style="position:absolute;left:695px;top:1072.50px"><path d="M2,8 L22.5,8 M15,1.8 L22.5,8 L15,14.2" fill="none" stroke="#555" stroke-width="2"/></svg>
<svg width="470" height="140" viewBox="0 0 470 140" style="position:absolute;left:730px;top:1009px">
<line x1="38.50" y1="9.5" x2="38.50" y2="111.5" stroke="#e8e8e8" stroke-width="1"/>
<line x1="73.50" y1="9.5" x2="73.50" y2="111.5" stroke="#e8e8e8" stroke-width="1"/>
<line x1="107.50" y1="9.5" x2="107.50" y2="111.5" stroke="#e8e8e8" stroke-width="1"/>
<line x1="142.50" y1="9.5" x2="142.50" y2="111.5" stroke="#e8e8e8" stroke-width="1"/>
<line x1="176.50" y1="9.5" x2="176.50" y2="111.5" stroke="#e8e8e8" stroke-width="1"/>
<line x1="211.50" y1="9.5" x2="211.50" y2="111.5" stroke="#e8e8e8" stroke-width="1"/>
<line x1="245.50" y1="9.5" x2="245.50" y2="111.5" stroke="#e8e8e8" stroke-width="1"/>
<line x1="280.50" y1="9.5" x2="280.50" y2="111.5" stroke="#e8e8e8" stroke-width="1"/>
<line x1="314.50" y1="9.5" x2="314.50" y2="111.5" stroke="#e8e8e8" stroke-width="1"/>
<line x1="349.50" y1="9.5" x2="349.50" y2="111.5" stroke="#e8e8e8" stroke-width="1"/>
<line x1="383.50" y1="9.5" x2="383.50" y2="111.5" stroke="#e8e8e8" stroke-width="1"/>
<line x1="418.50" y1="9.5" x2="418.50" y2="111.5" stroke="#e8e8e8" stroke-width="1"/>
<line x1="452.50" y1="9.5" x2="452.50" y2="111.5" stroke="#e8e8e8" stroke-width="1"/>
<line x1="38.5" y1="9.5" x2="452.5" y2="9.5" stroke="#e8e8e8" stroke-width="1"/>
<line x1="38.5" y1="24.5" x2="452.5" y2="24.5" stroke="#e8e8e8" stroke-width="1"/>
<line x1="38.5" y1="84.5" x2="452.5" y2="84.5" stroke="#e8e8e8" stroke-width="1"/>
<line x1="38.5" y1="102.5" x2="452.5" y2="102.5" stroke="#dcdcdc" stroke-width="1"/>
<rect x="43.86" y="88.50" width="23.8" height="14.00" fill="#4b8462" stroke="#3e6f52" stroke-width="0.8"/>
<rect x="78.38" y="87.30" width="23.8" height="15.20" fill="#4b8462" stroke="#3e6f52" stroke-width="0.8"/>
<rect x="112.89" y="84.30" width="23.8" height="18.20" fill="#4b8462" stroke="#3e6f52" stroke-width="0.8"/>
<rect x="147.41" y="82.70" width="23.8" height="19.80" fill="#4b8462" stroke="#3e6f52" stroke-width="0.8"/>
<rect x="181.93" y="89.30" width="23.8" height="13.20" fill="#4b8462" stroke="#3e6f52" stroke-width="0.8"/>
<rect x="216.44" y="87.30" width="23.8" height="15.20" fill="#4b8462" stroke="#3e6f52" stroke-width="0.8"/>
<rect x="250.96" y="92.10" width="23.8" height="10.40" fill="#4b8462" stroke="#3e6f52" stroke-width="0.8"/>
<rect x="285.48" y="82.70" width="23.8" height="19.80" fill="#4b8462" stroke="#3e6f52" stroke-width="0.8"/>
<rect x="319.99" y="88.50" width="23.8" height="14.00" fill="#4b8462" stroke="#3e6f52" stroke-width="0.8"/>
<rect x="354.51" y="92.10" width="23.8" height="10.40" fill="#4b8462" stroke="#3e6f52" stroke-width="0.8"/>
<rect x="389.03" y="78.50" width="23.8" height="24.00" fill="#4b8462" stroke="#3e6f52" stroke-width="0.8"/>
<rect x="423.54" y="76.80" width="23.8" height="25.70" fill="#4b8462" stroke="#3e6f52" stroke-width="0.8"/>
<line x1="55.76" y1="24.0" x2="435.44" y2="24.0" stroke="#111" stroke-width="3.2" stroke-dasharray="12,7.65"/>
<path d="M55.76,99.40 C59.56,99.32 82.68,98.82 90.28,98.70 C97.87,98.58 117.20,98.34 124.79,98.30 C132.39,98.26 151.71,98.18 159.31,98.30 C166.90,98.42 186.23,99.28 193.83,99.40 C201.42,99.52 220.75,99.25 228.34,99.40 C235.94,99.55 255.26,100.86 262.86,100.80 C270.45,100.74 289.78,99.01 297.38,98.90 C304.97,98.79 324.30,99.59 331.89,99.80 C339.49,100.01 358.81,101.08 366.41,100.80 C374.00,100.52 393.33,97.75 400.93,97.30 C408.52,96.85 431.64,96.77 435.44,96.70" fill="none" stroke="#0d1a12" stroke-width="2.8" stroke-linejoin="round" stroke-linecap="round"/>
<text x="33.5" y="28.00" text-anchor="end" font-family="Liberation Sans" font-size="16" fill="#747474">85</text>
<text x="33.5" y="88.50" text-anchor="end" font-family="Liberation Sans" font-size="16" fill="#747474">20</text>
<text x="33.5" y="106.50" text-anchor="end" font-family="Liberation Sans" font-size="16" fill="#747474">0</text>
<text x="55.76" y="131.80" text-anchor="middle" font-family="Liberation Sans" font-size="16" fill="#747474">15</text>
<text x="90.28" y="131.80" text-anchor="middle" font-family="Liberation Sans" font-size="16" fill="#747474">16</text>
<text x="124.79" y="131.80" text-anchor="middle" font-family="Liberation Sans" font-size="16" fill="#747474">17</text>
<text x="159.31" y="131.80" text-anchor="middle" font-family="Liberation Sans" font-size="16" fill="#747474">18</text>
<text x="193.83" y="131.80" text-anchor="middle" font-family="Liberation Sans" font-size="16" fill="#747474">19</text>
<text x="228.34" y="131.80" text-anchor="middle" font-family="Liberation Sans" font-size="16" fill="#747474">20</text>
<text x="262.86" y="131.80" text-anchor="middle" font-family="Liberation Sans" font-size="16" fill="#747474">21</text>
<text x="297.38" y="131.80" text-anchor="middle" font-family="Liberation Sans" font-size="16" fill="#747474">22</text>
<text x="331.89" y="131.80" text-anchor="middle" font-family="Liberation Sans" font-size="16" fill="#747474">23</text>
<text x="366.41" y="131.80" text-anchor="middle" font-family="Liberation Sans" font-size="16" fill="#747474">24</text>
<text x="400.93" y="131.80" text-anchor="middle" font-family="Liberation Sans" font-size="16" fill="#747474">25</text>
<text x="435.44" y="131.80" text-anchor="middle" font-family="Liberation Sans" font-size="16" fill="#747474">26</text>
</svg>
<svg width="330" height="140" viewBox="0 0 330 140" style="position:absolute;left:1200px;top:1009px">
<line x1="15.50" y1="9.5" x2="15.50" y2="111.80000000000001" stroke="#e8e8e8" stroke-width="1"/>
<line x1="58.50" y1="9.5" x2="58.50" y2="111.80000000000001" stroke="#e8e8e8" stroke-width="1"/>
<line x1="100.50" y1="9.5" x2="100.50" y2="111.80000000000001" stroke="#e8e8e8" stroke-width="1"/>
<line x1="143.50" y1="9.5" x2="143.50" y2="111.80000000000001" stroke="#e8e8e8" stroke-width="1"/>
<line x1="186.50" y1="9.5" x2="186.50" y2="111.80000000000001" stroke="#e8e8e8" stroke-width="1"/>
<line x1="229.50" y1="9.5" x2="229.50" y2="111.80000000000001" stroke="#e8e8e8" stroke-width="1"/>
<line x1="272.50" y1="9.5" x2="272.50" y2="111.80000000000001" stroke="#e8e8e8" stroke-width="1"/>
<line x1="314.50" y1="9.5" x2="314.50" y2="111.80000000000001" stroke="#e8e8e8" stroke-width="1"/>
<line x1="15.5" y1="9.5" x2="314.5" y2="9.5" stroke="#e8e8e8" stroke-width="1"/>
<line x1="15.5" y1="100.5" x2="314.5" y2="100.5" stroke="#dcdcdc" stroke-width="1"/>
<rect x="21.39" y="53.87" width="30.6" height="46.93" fill="#4b8462" stroke="#3e6f52" stroke-width="0.8"/>
<text x="36.69" y="48.57" text-anchor="middle" font-family="Liberation Sans" font-size="14.5" fill="#222">2</text>
<rect x="64.18" y="30.40" width="30.6" height="70.40" fill="#4b8462" stroke="#3e6f52" stroke-width="0.8"/>
<text x="79.48" y="25.10" text-anchor="middle" font-family="Liberation Sans" font-size="14.5" fill="#222">3</text>
<rect x="106.96" y="30.40" width="30.6" height="70.40" fill="#4b8462" stroke="#3e6f52" stroke-width="0.8"/>
<text x="122.26" y="25.10" text-anchor="middle" font-family="Liberation Sans" font-size="14.5" fill="#222">3</text>
<rect x="149.75" y="53.87" width="30.6" height="46.93" fill="#4b8462" stroke="#3e6f52" stroke-width="0.8"/>
<text x="165.05" y="48.57" text-anchor="middle" font-family="Liberation Sans" font-size="14.5" fill="#222">2</text>
<rect x="192.54" y="53.87" width="30.6" height="46.93" fill="#4b8462" stroke="#3e6f52" stroke-width="0.8"/>
<text x="207.84" y="48.57" text-anchor="middle" font-family="Liberation Sans" font-size="14.5" fill="#222">2</text>
<text x="250.62" y="95.50" text-anchor="middle" font-family="Liberation Sans" font-size="14.5" fill="#222">0</text>
<text x="293.41" y="95.50" text-anchor="middle" font-family="Liberation Sans" font-size="14.5" fill="#222">0</text>
<text x="36.69" y="129.80" text-anchor="middle" font-family="Liberation Sans" font-size="15" fill="#747474">M</text>
<text x="79.48" y="129.80" text-anchor="middle" font-family="Liberation Sans" font-size="15" fill="#747474">T</text>
<text x="122.26" y="129.80" text-anchor="middle" font-family="Liberation Sans" font-size="15" fill="#747474">W</text>
<text x="165.05" y="129.80" text-anchor="middle" font-family="Liberation Sans" font-size="15" fill="#747474">T</text>
<text x="207.84" y="129.80" text-anchor="middle" font-family="Liberation Sans" font-size="15" fill="#747474">F</text>
<text x="250.62" y="129.80" text-anchor="middle" font-family="Liberation Sans" font-size="15" fill="#747474">S</text>
<text x="293.41" y="129.80" text-anchor="middle" font-family="Liberation Sans" font-size="15" fill="#747474">S</text>
</svg>
<div class="a wb" style="left:1547px;top:1033.00px;line-height:14px">WITHIN BUDGET</div>
<div class="a wb" style="left:1547px;top:1090.80px;line-height:14px;letter-spacing:0.8px">WITHIN 24/7</div>
<div class="a cp" style="left:1546.5px;top:1053.50px;line-height:22px"><b>C</b><b style="font-size:13.2px;position:relative;top:-0.7px;margin-left:0.8px">p</b></div>
<div class="a cp" style="left:1578px;top:1053.20px;line-height:22px"><b>14</b> <span style="color:#555">hours</span></div>
<div class="a cp" style="left:1546.5px;top:1111.30px;line-height:22px"><b>C</b><b style="font-size:13.5px;position:relative;top:2.4px;margin-left:0.5px">T</b></div>
<div class="a cp" style="left:1578px;top:1111.30px;line-height:22px"><b>156</b> <span style="color:#555">hours</span></div>
<div class="a rate" style="left:1686.5px;top:1068.50px;line-height:22px">$ 259.84</div>
<div class="a rate" style="left:1837.5px;top:1068.50px;line-height:22px">$ 284.80</div>
<div class="a rate" style="left:1989px;top:1068.50px;line-height:22px;color:#5e9068">$ 280.00</div>
<div class="a" style="left:1538.5px;top:742.5px;font-size:16.5px;color:#759283;line-height:18px">8</div>
<div class="a" style="left:45.5px;top:1165px;font-size:14px;color:#555;line-height:16px;letter-spacing:-0.04px">* (considering that machines operate in best performance settings with 1% estimated reject rate)</div>
</body></html>
